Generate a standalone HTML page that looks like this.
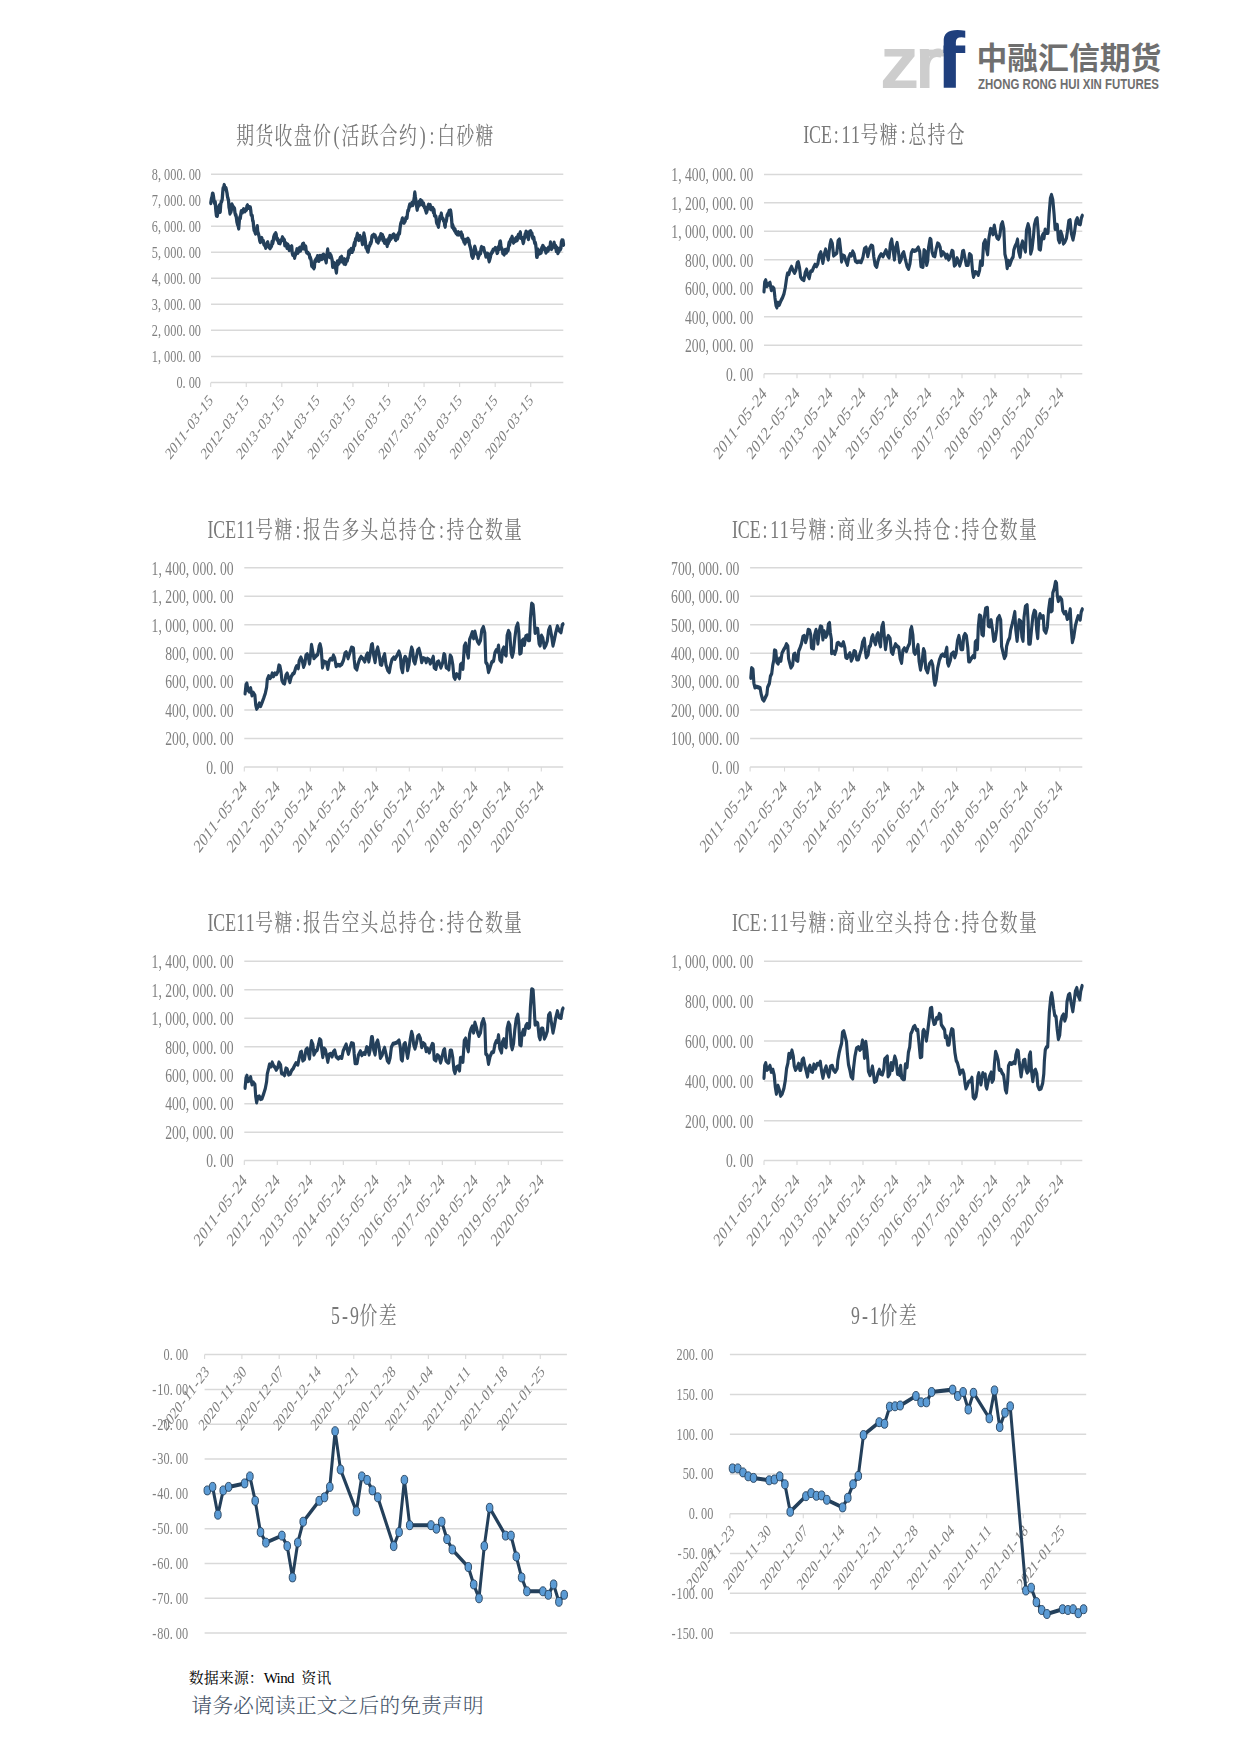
<!DOCTYPE html>
<html lang="zh-CN"><head><meta charset="utf-8"><title>中融汇信期货</title>
<style>
html,body{margin:0;padding:0;background:#fff}
body{width:1240px;height:1753px;position:relative;overflow:hidden}
svg{position:absolute;left:0;top:0;display:block}
text{white-space:pre}
.t{font-family:"Liberation Serif","Noto Serif CJK SC",serif;font-weight:400}
.f1{font-family:"Liberation Serif","Noto Serif CJK SC",serif;font-weight:400}
.f2{font-family:"Liberation Serif","Noto Serif CJK SC",serif;font-weight:300}
.lg{font-family:"Liberation Sans","DejaVu Sans",sans-serif}
.lc{font-family:"Liberation Sans","Noto Sans CJK SC",sans-serif}
.le{font-family:"Liberation Sans","DejaVu Sans",sans-serif}
#charts{filter:blur(0.6px)}
</style></head><body>
<svg width="1240" height="1753" viewBox="0 0 1240 1753">
<g id="charts">
<line x1="211.0" y1="174.20" x2="563.3" y2="174.20" stroke="#d9d9d9" stroke-width="1.50"/>
<text class="t" transform="translate(201.00 179.60) scale(1.0250 1.3890)" x="-48.00 -42.00 -36.00 -30.00 -24.00 -18.00 -12.00 -6.00" y="0" font-size="12.00" fill="#808080">8,000.00</text>
<line x1="211.0" y1="200.22" x2="563.3" y2="200.22" stroke="#d9d9d9" stroke-width="1.50"/>
<text class="t" transform="translate(201.00 205.62) scale(1.0250 1.3890)" x="-48.00 -42.00 -36.00 -30.00 -24.00 -18.00 -12.00 -6.00" y="0" font-size="12.00" fill="#808080">7,000.00</text>
<line x1="211.0" y1="226.25" x2="563.3" y2="226.25" stroke="#d9d9d9" stroke-width="1.50"/>
<text class="t" transform="translate(201.00 231.65) scale(1.0250 1.3890)" x="-48.00 -42.00 -36.00 -30.00 -24.00 -18.00 -12.00 -6.00" y="0" font-size="12.00" fill="#808080">6,000.00</text>
<line x1="211.0" y1="252.27" x2="563.3" y2="252.27" stroke="#d9d9d9" stroke-width="1.50"/>
<text class="t" transform="translate(201.00 257.67) scale(1.0250 1.3890)" x="-48.00 -42.00 -36.00 -30.00 -24.00 -18.00 -12.00 -6.00" y="0" font-size="12.00" fill="#808080">5,000.00</text>
<line x1="211.0" y1="278.30" x2="563.3" y2="278.30" stroke="#d9d9d9" stroke-width="1.50"/>
<text class="t" transform="translate(201.00 283.70) scale(1.0250 1.3890)" x="-48.00 -42.00 -36.00 -30.00 -24.00 -18.00 -12.00 -6.00" y="0" font-size="12.00" fill="#808080">4,000.00</text>
<line x1="211.0" y1="304.32" x2="563.3" y2="304.32" stroke="#d9d9d9" stroke-width="1.50"/>
<text class="t" transform="translate(201.00 309.72) scale(1.0250 1.3890)" x="-48.00 -42.00 -36.00 -30.00 -24.00 -18.00 -12.00 -6.00" y="0" font-size="12.00" fill="#808080">3,000.00</text>
<line x1="211.0" y1="330.35" x2="563.3" y2="330.35" stroke="#d9d9d9" stroke-width="1.50"/>
<text class="t" transform="translate(201.00 335.75) scale(1.0250 1.3890)" x="-48.00 -42.00 -36.00 -30.00 -24.00 -18.00 -12.00 -6.00" y="0" font-size="12.00" fill="#808080">2,000.00</text>
<line x1="211.0" y1="356.38" x2="563.3" y2="356.38" stroke="#d9d9d9" stroke-width="1.50"/>
<text class="t" transform="translate(201.00 361.77) scale(1.0250 1.3890)" x="-48.00 -42.00 -36.00 -30.00 -24.00 -18.00 -12.00 -6.00" y="0" font-size="12.00" fill="#808080">1,000.00</text>
<line x1="211.0" y1="382.40" x2="563.3" y2="382.40" stroke="#d9d9d9" stroke-width="1.50"/>
<text class="t" transform="translate(201.00 387.80) scale(1.0250 1.3890)" x="-24.00 -18.00 -12.00 -6.00" y="0" font-size="12.00" fill="#808080">0.00</text>
<line x1="210.70" y1="382.4" x2="210.70" y2="386.9" stroke="#d9d9d9" stroke-width="1.10"/>
<text class="t" transform="translate(213.70 401.40) scale(1.0250 1.3890) rotate(-45)" x="-60.00 -54.00 -48.00 -42.00 -35.00 -30.00 -24.00 -17.00 -12.00 -6.00" y="0" font-size="12.00" fill="#808080">2011-03-15</text>
<line x1="246.26" y1="382.4" x2="246.26" y2="386.9" stroke="#d9d9d9" stroke-width="1.10"/>
<text class="t" transform="translate(249.26 401.40) scale(1.0250 1.3890) rotate(-45)" x="-60.00 -54.00 -48.00 -42.00 -35.00 -30.00 -24.00 -17.00 -12.00 -6.00" y="0" font-size="12.00" fill="#808080">2012-03-15</text>
<line x1="281.82" y1="382.4" x2="281.82" y2="386.9" stroke="#d9d9d9" stroke-width="1.10"/>
<text class="t" transform="translate(284.82 401.40) scale(1.0250 1.3890) rotate(-45)" x="-60.00 -54.00 -48.00 -42.00 -35.00 -30.00 -24.00 -17.00 -12.00 -6.00" y="0" font-size="12.00" fill="#808080">2013-03-15</text>
<line x1="317.38" y1="382.4" x2="317.38" y2="386.9" stroke="#d9d9d9" stroke-width="1.10"/>
<text class="t" transform="translate(320.38 401.40) scale(1.0250 1.3890) rotate(-45)" x="-60.00 -54.00 -48.00 -42.00 -35.00 -30.00 -24.00 -17.00 -12.00 -6.00" y="0" font-size="12.00" fill="#808080">2014-03-15</text>
<line x1="352.94" y1="382.4" x2="352.94" y2="386.9" stroke="#d9d9d9" stroke-width="1.10"/>
<text class="t" transform="translate(355.94 401.40) scale(1.0250 1.3890) rotate(-45)" x="-60.00 -54.00 -48.00 -42.00 -35.00 -30.00 -24.00 -17.00 -12.00 -6.00" y="0" font-size="12.00" fill="#808080">2015-03-15</text>
<line x1="388.50" y1="382.4" x2="388.50" y2="386.9" stroke="#d9d9d9" stroke-width="1.10"/>
<text class="t" transform="translate(391.50 401.40) scale(1.0250 1.3890) rotate(-45)" x="-60.00 -54.00 -48.00 -42.00 -35.00 -30.00 -24.00 -17.00 -12.00 -6.00" y="0" font-size="12.00" fill="#808080">2016-03-15</text>
<line x1="424.06" y1="382.4" x2="424.06" y2="386.9" stroke="#d9d9d9" stroke-width="1.10"/>
<text class="t" transform="translate(427.06 401.40) scale(1.0250 1.3890) rotate(-45)" x="-60.00 -54.00 -48.00 -42.00 -35.00 -30.00 -24.00 -17.00 -12.00 -6.00" y="0" font-size="12.00" fill="#808080">2017-03-15</text>
<line x1="459.62" y1="382.4" x2="459.62" y2="386.9" stroke="#d9d9d9" stroke-width="1.10"/>
<text class="t" transform="translate(462.62 401.40) scale(1.0250 1.3890) rotate(-45)" x="-60.00 -54.00 -48.00 -42.00 -35.00 -30.00 -24.00 -17.00 -12.00 -6.00" y="0" font-size="12.00" fill="#808080">2018-03-15</text>
<line x1="495.18" y1="382.4" x2="495.18" y2="386.9" stroke="#d9d9d9" stroke-width="1.10"/>
<text class="t" transform="translate(498.18 401.40) scale(1.0250 1.3890) rotate(-45)" x="-60.00 -54.00 -48.00 -42.00 -35.00 -30.00 -24.00 -17.00 -12.00 -6.00" y="0" font-size="12.00" fill="#808080">2019-03-15</text>
<line x1="530.74" y1="382.4" x2="530.74" y2="386.9" stroke="#d9d9d9" stroke-width="1.10"/>
<text class="t" transform="translate(533.74 401.40) scale(1.0250 1.3890) rotate(-45)" x="-60.00 -54.00 -48.00 -42.00 -35.00 -30.00 -24.00 -17.00 -12.00 -6.00" y="0" font-size="12.00" fill="#808080">2020-03-15</text>
<text class="t" transform="translate(365.50 144.00) scale(1.0250 1.3890)" x="-126.02 -107.35 -88.68 -70.01 -51.34 -31.18 -23.34 -4.67 14.00 32.67 52.84 62.54 70.01 88.68 107.35" y="0" font-size="17.40" fill="#787878">期货收盘价(活跃合约):白砂糖</text>
<polyline transform="scale(1 1.355)" points="210.8,149.82 211.5,146.45 212.0,145.44 212.5,142.92 213.0,143.06 213.5,145.04 214.0,147.90 214.6,149.99 215.2,149.14 215.9,155.87 216.4,159.00 216.8,157.84 217.3,159.27 217.8,156.85 218.3,154.94 218.8,152.43 219.3,151.76 219.8,155.37 220.2,156.28 220.7,151.06 221.2,148.90 221.7,148.58 222.2,147.13 222.7,142.30 223.1,138.86 223.7,138.78 224.2,136.59 224.6,137.67 225.1,138.84 225.6,139.45 226.0,138.92 226.5,140.70 227.0,142.44 227.5,145.08 228.0,146.62 228.5,147.81 229.0,152.84 229.5,154.53 230.0,157.51 230.4,154.69 230.9,156.34 231.4,154.66 231.9,150.84 232.4,151.59 232.9,152.97 233.5,152.93 234.0,153.73 234.5,153.87 235.0,157.28 235.5,158.68 236.0,158.81 236.5,161.24 236.9,163.72 237.5,165.55 238.1,166.31 238.7,168.57 239.3,163.12 239.8,160.38 240.3,160.91 240.8,158.13 241.3,155.85 241.8,156.64 242.4,156.65 242.9,156.02 243.5,154.42 244.0,154.65 244.4,154.89 244.9,155.85 245.4,154.94 245.9,154.48 246.4,154.83 246.9,152.39 247.5,151.64 248.0,153.17 248.5,153.36 249.1,152.87 249.7,153.06 250.3,153.16 250.8,155.54 251.2,158.44 251.7,158.90 252.2,159.29 252.7,162.92 253.1,163.20 253.6,166.70 254.1,169.86 254.6,170.14 255.0,171.32 255.5,172.26 256.1,171.82 256.7,171.84 257.3,167.04 257.7,170.86 258.2,172.07 258.7,173.37 259.2,175.00 259.7,177.38 260.2,178.50 260.7,178.25 261.2,177.37 261.8,175.65 262.3,178.13 262.8,178.14 263.3,177.90 263.8,180.05 264.3,180.65 264.7,180.87 265.2,181.50 265.7,182.85 266.2,182.08 266.6,180.97 267.1,179.35 267.7,178.90 268.3,180.69 268.9,181.57 269.4,182.61 270.0,183.19 270.5,182.57 271.0,182.16 271.6,181.29 272.1,178.37 272.7,179.51 273.2,177.97 273.7,175.03 274.2,173.93 274.7,173.07 275.2,174.84 275.7,172.19 276.2,173.12 276.7,176.37 277.1,176.81 277.6,176.37 278.1,177.22 278.6,179.06 279.0,178.33 279.6,178.30 280.1,179.45 280.7,178.14 281.2,177.26 281.8,177.27 282.4,175.14 283.0,175.89 283.4,176.81 283.9,176.79 284.4,177.31 284.8,180.92 285.4,180.07 285.9,179.54 286.5,181.48 287.0,182.77 287.6,180.48 288.1,181.01 288.6,182.00 289.2,184.56 289.7,182.37 290.2,184.08 290.7,183.78 291.2,183.09 291.7,181.73 292.2,186.54 292.8,188.06 293.4,187.95 294.0,187.81 294.6,190.20 295.0,188.37 295.5,188.07 296.0,186.23 296.5,186.39 296.9,184.01 297.4,184.50 297.9,186.52 298.4,185.83 298.9,183.46 299.4,185.06 299.9,182.90 300.4,184.91 300.9,184.01 301.4,182.63 302.0,181.84 302.5,180.57 303.1,183.25 303.6,179.87 304.1,182.24 304.7,183.42 305.2,182.70 305.7,181.95 306.2,185.09 306.7,186.40 307.3,186.38 307.8,186.63 308.4,187.10 308.8,187.66 309.3,187.83 309.8,190.16 310.2,189.98 310.7,190.92 311.2,192.38 311.7,196.16 312.3,195.56 312.9,197.00 313.4,197.09 313.9,197.96 314.4,196.99 314.8,192.79 315.3,192.37 315.9,191.39 316.5,192.30 317.1,190.14 317.5,189.11 318.0,189.20 318.5,191.37 318.9,192.48 319.4,191.92 319.9,188.95 320.4,189.96 320.9,189.54 321.3,189.09 321.8,191.13 322.3,188.74 322.8,190.34 323.3,187.94 323.8,188.11 324.3,190.60 324.8,188.93 325.3,191.67 325.7,191.91 326.2,193.57 326.7,189.39 327.2,186.79 327.7,184.12 328.1,187.05 328.6,187.01 329.1,189.15 329.6,189.58 330.1,187.58 330.5,189.73 331.0,188.81 331.6,190.37 332.2,192.27 332.7,196.87 333.2,196.32 333.7,196.20 334.2,194.20 334.6,194.91 335.2,197.64 335.8,198.35 336.4,201.18 336.9,196.73 337.4,193.02 337.9,193.14 338.3,194.81 338.8,193.12 339.3,193.86 339.7,191.67 340.2,190.50 340.7,191.77 341.2,191.38 341.7,189.56 342.3,192.96 342.9,191.98 343.4,191.93 344.0,194.52 344.5,191.40 345.1,191.97 345.6,194.76 346.2,192.88 346.7,191.93 347.3,192.25 347.7,190.37 348.2,190.01 348.7,185.59 349.2,187.65 349.7,184.96 350.1,186.26 350.6,185.24 351.2,183.77 351.8,184.34 352.3,185.85 352.8,183.44 353.3,184.33 353.8,181.08 354.4,179.20 354.9,180.85 355.5,176.63 356.0,176.90 356.5,175.57 356.9,174.29 357.4,172.60 357.9,176.01 358.4,176.61 358.8,177.01 359.3,174.38 359.9,174.21 360.5,175.10 361.0,175.85 361.5,176.08 362.0,178.38 362.5,180.07 363.0,176.51 363.5,175.36 363.9,172.39 364.4,174.32 364.9,175.88 365.4,178.73 365.9,182.55 366.5,182.00 367.0,184.06 367.6,185.37 368.1,185.62 368.7,182.86 369.2,181.76 369.8,181.03 370.3,179.39 370.8,179.66 371.4,178.22 371.9,174.52 372.5,173.92 373.1,173.94 373.7,173.35 374.1,174.22 374.6,173.78 375.1,173.79 375.6,175.38 376.1,175.58 376.7,178.08 377.2,177.18 377.7,178.00 378.2,178.91 378.7,176.62 379.2,177.32 379.6,175.19 380.2,175.97 380.8,172.92 381.4,173.61 381.9,175.32 382.5,173.45 383.0,177.21 383.5,175.13 384.0,177.80 384.5,179.08 385.0,179.03 385.5,177.79 386.1,177.57 386.6,179.55 387.2,181.52 387.7,178.37 388.3,179.56 388.8,175.96 389.4,177.74 389.9,174.09 390.4,174.56 391.0,176.11 391.5,175.22 392.0,175.05 392.5,174.28 393.0,173.41 393.5,174.10 394.0,173.18 394.4,174.98 394.9,174.41 395.4,176.78 395.9,177.02 396.3,175.95 396.9,174.03 397.5,175.97 398.1,174.17 398.5,172.53 399.0,171.79 399.5,172.18 400.1,168.09 400.7,165.21 401.3,164.11 401.8,162.93 402.4,161.21 403.0,163.82 403.5,163.41 404.1,164.35 404.6,162.95 405.1,163.19 405.5,161.62 406.0,160.77 406.5,160.44 407.0,160.67 407.5,157.36 407.9,155.58 408.5,155.26 409.1,152.85 409.7,150.97 410.2,152.15 410.8,151.38 411.3,151.24 411.9,149.82 412.3,150.88 412.8,151.22 413.3,149.65 413.8,148.06 414.3,145.50 414.8,142.10 415.3,145.18 415.9,148.11 416.6,152.02 417.2,154.73 417.7,151.79 418.2,152.43 418.6,149.65 419.1,149.06 419.6,150.08 420.1,150.84 420.5,147.76 421.0,149.38 421.5,150.19 422.0,148.57 422.5,150.32 423.0,151.28 423.5,150.26 424.0,152.09 424.4,152.89 424.9,153.05 425.4,154.79 425.9,155.73 426.3,156.76 426.8,156.19 427.4,153.54 428.0,152.55 428.5,151.18 429.1,152.70 429.6,153.63 430.2,151.40 430.7,153.90 431.3,154.43 431.8,153.52 432.4,154.51 432.9,153.67 433.4,156.48 434.0,154.84 434.5,158.98 435.1,159.17 435.6,159.96 436.0,160.11 436.5,163.82 437.0,164.93 437.5,162.96 437.9,166.15 438.4,167.32 438.9,164.71 439.4,162.89 439.9,160.02 440.4,161.01 440.8,160.46 441.3,157.66 441.9,160.76 442.5,161.05 443.1,161.71 443.6,162.95 444.2,162.91 444.7,166.35 445.2,167.20 445.7,162.89 446.2,163.25 446.7,161.23 447.1,158.87 447.6,158.60 448.1,157.54 448.6,158.42 449.1,155.68 449.6,156.23 450.1,157.00 450.6,155.42 451.0,157.46 451.6,161.93 452.1,167.30 452.5,165.87 453.0,166.96 453.5,168.67 454.0,168.52 454.5,170.03 455.0,169.25 455.6,171.18 456.1,171.96 456.7,172.16 457.2,172.88 457.8,171.49 458.3,171.43 458.8,172.99 459.3,172.96 459.8,172.52 460.2,172.12 460.7,172.04 461.2,171.69 461.8,174.97 462.3,173.33 462.8,176.36 463.4,176.45 463.9,178.47 464.5,178.28 465.0,179.57 465.6,177.14 466.1,178.11 466.6,178.04 467.0,176.80 467.5,177.16 468.0,176.32 468.5,178.13 469.0,177.47 469.4,180.23 469.9,181.47 470.5,182.92 471.1,185.22 471.7,188.54 472.2,189.53 472.8,190.19 473.3,189.13 473.8,186.57 474.2,184.34 474.7,182.03 475.3,183.53 475.9,185.21 476.5,186.75 477.0,187.63 477.6,187.58 478.2,190.33 478.7,187.80 479.1,188.45 479.6,186.28 480.1,186.80 480.6,186.85 481.0,183.63 481.5,182.35 482.0,183.14 482.5,183.54 483.1,183.65 483.7,183.10 484.3,185.27 484.8,186.20 485.3,186.93 485.9,189.35 486.4,187.97 486.8,188.10 487.3,188.28 487.8,187.35 488.3,188.40 488.7,191.26 489.2,192.85 489.8,191.28 490.4,189.60 491.0,187.21 491.5,186.92 492.1,185.87 492.6,185.87 493.1,184.25 493.7,184.34 494.2,183.93 494.8,183.97 495.3,183.09 495.9,183.25 496.5,184.02 497.1,186.67 497.5,186.45 498.0,184.48 498.5,182.29 498.9,183.90 499.5,180.52 500.0,178.31 500.4,178.25 500.9,181.32 501.4,183.58 501.9,183.65 502.4,184.61 502.8,186.89 503.3,185.83 503.8,186.89 504.2,187.78 504.7,186.20 505.2,184.51 505.8,186.06 506.4,186.30 506.9,185.43 507.5,183.82 508.1,184.62 508.7,180.83 509.1,179.07 509.6,180.67 510.1,178.51 510.6,176.89 511.1,176.33 511.6,176.06 512.1,174.71 512.5,177.10 513.0,177.98 513.5,179.01 514.0,176.95 514.6,178.02 515.1,176.54 515.6,177.58 516.2,175.66 516.7,177.31 517.3,177.05 517.8,174.61 518.3,173.43 518.8,175.25 519.2,173.54 519.7,173.22 520.3,171.41 520.9,175.56 521.4,175.65 522.0,175.64 522.6,177.12 523.2,179.36 523.7,178.37 524.1,175.19 524.6,175.66 525.1,172.96 525.6,174.39 526.0,171.09 526.5,171.32 527.0,172.28 527.5,173.45 527.9,173.84 528.4,176.38 529.0,173.04 529.6,171.08 530.2,171.16 530.7,170.80 531.3,173.07 531.9,172.15 532.4,174.78 532.8,175.72 533.3,175.20 533.8,175.43 534.3,177.66 534.7,179.21 535.2,179.02 535.7,180.53 536.2,183.82 536.7,189.49 537.2,189.45 537.6,186.00 538.1,184.28 538.6,185.58 539.1,186.24 539.6,187.04 540.1,186.06 540.6,185.37 541.1,186.38 541.7,183.08 542.2,184.36 542.7,181.50 543.2,181.82 543.8,182.97 544.3,183.35 544.9,183.42 545.4,184.44 545.9,186.39 546.5,184.99 547.0,185.28 547.6,183.84 548.1,184.91 548.5,182.83 549.0,183.05 549.5,183.45 550.0,183.04 550.5,178.97 551.1,182.52 551.6,183.63 552.2,182.61 552.7,181.90 553.2,181.66 553.6,181.92 554.1,179.15 554.7,181.92 555.2,182.56 555.7,181.48 556.3,185.25 556.8,182.87 557.4,184.14 557.9,186.78 558.5,185.43 558.9,185.50 559.4,183.55 559.9,183.66 560.4,183.92 560.9,182.95 561.4,178.66 561.9,177.54 562.4,179.10 563.0,177.61 563.5,180.57" fill="none" stroke="#24405b" stroke-width="3.30" stroke-linejoin="round" stroke-linecap="round"/>
<line x1="764.0" y1="174.40" x2="1082.3" y2="174.40" stroke="#d9d9d9" stroke-width="1.50"/>
<text class="t" transform="translate(753.30 181.20) scale(1.0250 1.3890)" x="-79.98 -73.31 -66.65 -59.98 -53.32 -46.65 -39.99 -33.32 -26.66 -19.99 -13.33 -6.66" y="0" font-size="13.33" fill="#808080">1,400,000.00</text>
<line x1="764.0" y1="202.87" x2="1082.3" y2="202.87" stroke="#d9d9d9" stroke-width="1.50"/>
<text class="t" transform="translate(753.30 209.67) scale(1.0250 1.3890)" x="-79.98 -73.31 -66.65 -59.98 -53.32 -46.65 -39.99 -33.32 -26.66 -19.99 -13.33 -6.66" y="0" font-size="13.33" fill="#808080">1,200,000.00</text>
<line x1="764.0" y1="231.34" x2="1082.3" y2="231.34" stroke="#d9d9d9" stroke-width="1.50"/>
<text class="t" transform="translate(753.30 238.14) scale(1.0250 1.3890)" x="-79.98 -73.31 -66.65 -59.98 -53.32 -46.65 -39.99 -33.32 -26.66 -19.99 -13.33 -6.66" y="0" font-size="13.33" fill="#808080">1,000,000.00</text>
<line x1="764.0" y1="259.81" x2="1082.3" y2="259.81" stroke="#d9d9d9" stroke-width="1.50"/>
<text class="t" transform="translate(753.30 266.61) scale(1.0250 1.3890)" x="-66.65 -59.99 -53.32 -46.66 -39.99 -33.33 -26.66 -20.00 -13.33 -6.67" y="0" font-size="13.33" fill="#808080">800,000.00</text>
<line x1="764.0" y1="288.29" x2="1082.3" y2="288.29" stroke="#d9d9d9" stroke-width="1.50"/>
<text class="t" transform="translate(753.30 295.09) scale(1.0250 1.3890)" x="-66.65 -59.99 -53.32 -46.66 -39.99 -33.33 -26.66 -20.00 -13.33 -6.67" y="0" font-size="13.33" fill="#808080">600,000.00</text>
<line x1="764.0" y1="316.76" x2="1082.3" y2="316.76" stroke="#d9d9d9" stroke-width="1.50"/>
<text class="t" transform="translate(753.30 323.56) scale(1.0250 1.3890)" x="-66.65 -59.99 -53.32 -46.66 -39.99 -33.33 -26.66 -20.00 -13.33 -6.67" y="0" font-size="13.33" fill="#808080">400,000.00</text>
<line x1="764.0" y1="345.23" x2="1082.3" y2="345.23" stroke="#d9d9d9" stroke-width="1.50"/>
<text class="t" transform="translate(753.30 352.03) scale(1.0250 1.3890)" x="-66.65 -59.99 -53.32 -46.66 -39.99 -33.33 -26.66 -20.00 -13.33 -6.67" y="0" font-size="13.33" fill="#808080">200,000.00</text>
<line x1="764.0" y1="373.70" x2="1082.3" y2="373.70" stroke="#d9d9d9" stroke-width="1.50"/>
<text class="t" transform="translate(753.30 380.50) scale(1.0250 1.3890)" x="-26.66 -20.00 -13.33 -6.67" y="0" font-size="13.33" fill="#808080">0.00</text>
<line x1="764.00" y1="373.7" x2="764.00" y2="378.2" stroke="#d9d9d9" stroke-width="1.10"/>
<text class="t" transform="translate(767.33 394.81) scale(1.0250 1.3890) rotate(-45)" x="-66.65 -59.99 -53.32 -46.66 -38.88 -33.33 -26.66 -18.89 -13.33 -6.67" y="0" font-size="13.33" fill="#808080">2011-05-24</text>
<line x1="797.00" y1="373.7" x2="797.00" y2="378.2" stroke="#d9d9d9" stroke-width="1.10"/>
<text class="t" transform="translate(800.33 394.81) scale(1.0250 1.3890) rotate(-45)" x="-66.65 -59.99 -53.32 -46.66 -38.88 -33.33 -26.66 -18.89 -13.33 -6.67" y="0" font-size="13.33" fill="#808080">2012-05-24</text>
<line x1="830.00" y1="373.7" x2="830.00" y2="378.2" stroke="#d9d9d9" stroke-width="1.10"/>
<text class="t" transform="translate(833.33 394.81) scale(1.0250 1.3890) rotate(-45)" x="-66.65 -59.99 -53.32 -46.66 -38.88 -33.33 -26.66 -18.89 -13.33 -6.67" y="0" font-size="13.33" fill="#808080">2013-05-24</text>
<line x1="863.00" y1="373.7" x2="863.00" y2="378.2" stroke="#d9d9d9" stroke-width="1.10"/>
<text class="t" transform="translate(866.33 394.81) scale(1.0250 1.3890) rotate(-45)" x="-66.65 -59.99 -53.32 -46.66 -38.88 -33.33 -26.66 -18.89 -13.33 -6.67" y="0" font-size="13.33" fill="#808080">2014-05-24</text>
<line x1="896.00" y1="373.7" x2="896.00" y2="378.2" stroke="#d9d9d9" stroke-width="1.10"/>
<text class="t" transform="translate(899.33 394.81) scale(1.0250 1.3890) rotate(-45)" x="-66.65 -59.99 -53.32 -46.66 -38.88 -33.33 -26.66 -18.89 -13.33 -6.67" y="0" font-size="13.33" fill="#808080">2015-05-24</text>
<line x1="929.00" y1="373.7" x2="929.00" y2="378.2" stroke="#d9d9d9" stroke-width="1.10"/>
<text class="t" transform="translate(932.33 394.81) scale(1.0250 1.3890) rotate(-45)" x="-66.65 -59.99 -53.32 -46.66 -38.88 -33.33 -26.66 -18.89 -13.33 -6.67" y="0" font-size="13.33" fill="#808080">2016-05-24</text>
<line x1="962.00" y1="373.7" x2="962.00" y2="378.2" stroke="#d9d9d9" stroke-width="1.10"/>
<text class="t" transform="translate(965.33 394.81) scale(1.0250 1.3890) rotate(-45)" x="-66.65 -59.99 -53.32 -46.66 -38.88 -33.33 -26.66 -18.89 -13.33 -6.67" y="0" font-size="13.33" fill="#808080">2017-05-24</text>
<line x1="995.00" y1="373.7" x2="995.00" y2="378.2" stroke="#d9d9d9" stroke-width="1.10"/>
<text class="t" transform="translate(998.33 394.81) scale(1.0250 1.3890) rotate(-45)" x="-66.65 -59.99 -53.32 -46.66 -38.88 -33.33 -26.66 -18.89 -13.33 -6.67" y="0" font-size="13.33" fill="#808080">2018-05-24</text>
<line x1="1028.00" y1="373.7" x2="1028.00" y2="378.2" stroke="#d9d9d9" stroke-width="1.10"/>
<text class="t" transform="translate(1031.33 394.81) scale(1.0250 1.3890) rotate(-45)" x="-66.65 -59.99 -53.32 -46.66 -38.88 -33.33 -26.66 -18.89 -13.33 -6.67" y="0" font-size="13.33" fill="#808080">2019-05-24</text>
<line x1="1061.00" y1="373.7" x2="1061.00" y2="378.2" stroke="#d9d9d9" stroke-width="1.10"/>
<text class="t" transform="translate(1064.33 394.81) scale(1.0250 1.3890) rotate(-45)" x="-66.65 -59.99 -53.32 -46.66 -38.88 -33.33 -26.66 -18.89 -13.33 -6.67" y="0" font-size="13.33" fill="#808080">2020-05-24</text>
<text class="t" transform="translate(884.50 143.20) scale(1.0250 1.3890)" x="-79.35 -73.56 -61.96 -49.48 -42.01 -32.67 -23.34 -4.67 15.87 23.34 42.01 60.68" y="0" font-size="17.40" fill="#787878">ICE:11号糖:总持仓</text>
<polyline transform="scale(1 1.355)" points="764.0,215.10 764.7,208.22 765.7,206.75 767.0,211.17 768.4,209.69 770.0,208.71 771.3,214.11 772.9,212.15 774.0,213.13 775.0,220.01 776.0,225.41 776.9,226.88 778.0,223.44 779.3,224.92 780.9,221.97 782.6,219.51 783.9,217.06 785.3,212.15 786.6,205.27 787.5,201.84 788.9,202.33 789.9,199.38 791.5,196.93 792.9,199.38 794.6,201.35 795.9,199.38 797.3,193.98 798.3,193.49 799.5,197.42 800.6,204.29 801.9,205.77 803.9,206.75 805.2,201.35 806.6,198.89 807.9,203.31 809.2,205.27 810.6,200.36 812.3,199.87 813.6,197.42 815.0,195.45 816.5,196.44 817.9,194.47 819.2,188.58 820.8,186.12 821.9,190.54 822.9,193.98 824.3,187.60 825.6,184.16 826.9,187.60 828.3,191.53 829.9,180.72 830.9,177.29 832.3,179.74 833.6,188.58 835.2,187.60 836.8,186.62 838.1,177.78 839.4,176.80 840.5,183.67 841.6,193.00 842.9,188.58 844.5,189.07 845.8,192.51 847.4,195.45 848.8,190.05 850.1,187.60 851.4,188.58 852.7,185.63 854.1,187.60 855.4,192.51 857.1,193.49 859.1,193.00 861.1,193.49 862.9,190.05 864.5,183.67 866.1,182.69 867.8,189.07 869.5,183.67 871.1,181.21 872.7,181.71 873.8,189.56 875.1,195.45 876.7,196.93 878.0,192.51 879.4,189.56 881.1,187.60 883.1,189.07 884.7,186.62 886.0,184.65 887.7,188.58 889.1,190.05 890.4,179.74 891.7,176.80 893.1,184.65 894.4,191.53 895.7,182.69 897.1,179.25 898.4,185.63 899.7,193.49 901.0,191.53 902.4,187.60 903.7,186.12 905.4,191.53 907.0,196.44 908.6,198.40 910.0,194.47 911.3,186.62 912.6,184.65 914.4,185.14 916.3,184.65 918.3,182.69 919.7,185.63 921.0,196.44 923.0,196.93 924.0,184.65 925.3,185.63 926.7,195.45 927.7,192.51 928.6,182.69 930.0,176.30 930.9,176.80 932.0,185.63 933.3,188.58 934.9,189.07 936.2,183.67 937.6,179.74 938.9,180.23 940.2,182.69 941.3,188.58 942.9,186.12 944.6,187.60 945.9,190.05 947.3,188.09 948.6,191.53 950.3,189.56 951.9,185.14 953.0,185.63 954.3,195.95 955.7,194.96 957.0,190.54 958.3,192.51 959.7,195.95 961.3,192.02 962.6,185.63 963.6,185.14 965.0,190.54 966.3,195.45 968.2,195.45 969.5,187.60 971.2,188.58 972.6,200.36 973.5,204.29 975.2,200.86 977.0,201.35 978.3,202.82 979.6,199.38 980.5,193.00 982.3,195.45 983.6,179.74 985.2,177.29 986.3,183.18 987.6,187.60 988.9,175.81 990.5,168.94 991.9,169.43 992.9,172.87 994.3,166.48 995.6,171.89 996.9,175.32 998.5,176.30 999.8,173.85 1001.2,165.99 1002.5,164.03 1003.8,168.94 1004.9,187.60 1006.2,191.53 1007.2,197.91 1008.5,192.51 1009.8,195.45 1011.6,191.53 1013.1,189.56 1013.8,184.65 1015.1,181.71 1016.5,179.74 1017.5,176.80 1018.7,185.63 1020.1,189.56 1021.4,181.21 1022.5,178.27 1023.8,181.71 1025.4,185.63 1026.5,169.92 1028.1,165.50 1029.4,168.94 1030.7,187.11 1032.0,183.67 1033.4,174.83 1034.4,165.99 1035.8,162.06 1037.1,161.08 1038.2,170.90 1039.1,183.67 1040.4,184.16 1041.8,174.83 1043.1,172.87 1044.0,175.81 1045.1,169.43 1046.4,171.89 1048.0,171.89 1049.1,158.14 1050.4,146.35 1051.5,143.90 1052.8,147.33 1054.1,158.14 1055.1,168.94 1056.4,165.99 1057.3,165.99 1058.4,176.80 1059.5,178.76 1060.8,170.90 1062.1,173.85 1063.4,179.74 1065.0,178.27 1066.4,175.81 1067.4,170.90 1068.8,163.05 1070.1,162.56 1071.4,172.38 1073.0,176.80 1074.4,171.89 1076.0,163.05 1077.3,161.08 1078.6,165.01 1080.3,165.50 1081.3,161.08 1082.3,159.12" fill="none" stroke="#24405b" stroke-width="3.15" stroke-linejoin="round" stroke-linecap="round"/>
<line x1="244.3" y1="567.80" x2="563.2" y2="567.80" stroke="#d9d9d9" stroke-width="1.50"/>
<text class="t" transform="translate(233.60 574.60) scale(1.0250 1.3890)" x="-79.98 -73.31 -66.65 -59.98 -53.32 -46.65 -39.99 -33.32 -26.66 -19.99 -13.33 -6.66" y="0" font-size="13.33" fill="#808080">1,400,000.00</text>
<line x1="244.3" y1="596.26" x2="563.2" y2="596.26" stroke="#d9d9d9" stroke-width="1.50"/>
<text class="t" transform="translate(233.60 603.06) scale(1.0250 1.3890)" x="-79.98 -73.31 -66.65 -59.98 -53.32 -46.65 -39.99 -33.32 -26.66 -19.99 -13.33 -6.66" y="0" font-size="13.33" fill="#808080">1,200,000.00</text>
<line x1="244.3" y1="624.71" x2="563.2" y2="624.71" stroke="#d9d9d9" stroke-width="1.50"/>
<text class="t" transform="translate(233.60 631.51) scale(1.0250 1.3890)" x="-79.98 -73.31 -66.65 -59.98 -53.32 -46.65 -39.99 -33.32 -26.66 -19.99 -13.33 -6.66" y="0" font-size="13.33" fill="#808080">1,000,000.00</text>
<line x1="244.3" y1="653.17" x2="563.2" y2="653.17" stroke="#d9d9d9" stroke-width="1.50"/>
<text class="t" transform="translate(233.60 659.97) scale(1.0250 1.3890)" x="-66.65 -59.99 -53.32 -46.66 -39.99 -33.33 -26.66 -20.00 -13.33 -6.67" y="0" font-size="13.33" fill="#808080">800,000.00</text>
<line x1="244.3" y1="681.63" x2="563.2" y2="681.63" stroke="#d9d9d9" stroke-width="1.50"/>
<text class="t" transform="translate(233.60 688.43) scale(1.0250 1.3890)" x="-66.65 -59.99 -53.32 -46.66 -39.99 -33.33 -26.66 -20.00 -13.33 -6.67" y="0" font-size="13.33" fill="#808080">600,000.00</text>
<line x1="244.3" y1="710.09" x2="563.2" y2="710.09" stroke="#d9d9d9" stroke-width="1.50"/>
<text class="t" transform="translate(233.60 716.89) scale(1.0250 1.3890)" x="-66.65 -59.99 -53.32 -46.66 -39.99 -33.33 -26.66 -20.00 -13.33 -6.67" y="0" font-size="13.33" fill="#808080">400,000.00</text>
<line x1="244.3" y1="738.54" x2="563.2" y2="738.54" stroke="#d9d9d9" stroke-width="1.50"/>
<text class="t" transform="translate(233.60 745.34) scale(1.0250 1.3890)" x="-66.65 -59.99 -53.32 -46.66 -39.99 -33.33 -26.66 -20.00 -13.33 -6.67" y="0" font-size="13.33" fill="#808080">200,000.00</text>
<line x1="244.3" y1="767.00" x2="563.2" y2="767.00" stroke="#d9d9d9" stroke-width="1.50"/>
<text class="t" transform="translate(233.60 773.80) scale(1.0250 1.3890)" x="-26.66 -20.00 -13.33 -6.67" y="0" font-size="13.33" fill="#808080">0.00</text>
<line x1="244.30" y1="767.0" x2="244.30" y2="771.5" stroke="#d9d9d9" stroke-width="1.10"/>
<text class="t" transform="translate(247.63 788.11) scale(1.0250 1.3890) rotate(-45)" x="-66.65 -59.99 -53.32 -46.66 -38.88 -33.33 -26.66 -18.89 -13.33 -6.67" y="0" font-size="13.33" fill="#808080">2011-05-24</text>
<line x1="277.30" y1="767.0" x2="277.30" y2="771.5" stroke="#d9d9d9" stroke-width="1.10"/>
<text class="t" transform="translate(280.63 788.11) scale(1.0250 1.3890) rotate(-45)" x="-66.65 -59.99 -53.32 -46.66 -38.88 -33.33 -26.66 -18.89 -13.33 -6.67" y="0" font-size="13.33" fill="#808080">2012-05-24</text>
<line x1="310.30" y1="767.0" x2="310.30" y2="771.5" stroke="#d9d9d9" stroke-width="1.10"/>
<text class="t" transform="translate(313.63 788.11) scale(1.0250 1.3890) rotate(-45)" x="-66.65 -59.99 -53.32 -46.66 -38.88 -33.33 -26.66 -18.89 -13.33 -6.67" y="0" font-size="13.33" fill="#808080">2013-05-24</text>
<line x1="343.30" y1="767.0" x2="343.30" y2="771.5" stroke="#d9d9d9" stroke-width="1.10"/>
<text class="t" transform="translate(346.63 788.11) scale(1.0250 1.3890) rotate(-45)" x="-66.65 -59.99 -53.32 -46.66 -38.88 -33.33 -26.66 -18.89 -13.33 -6.67" y="0" font-size="13.33" fill="#808080">2014-05-24</text>
<line x1="376.30" y1="767.0" x2="376.30" y2="771.5" stroke="#d9d9d9" stroke-width="1.10"/>
<text class="t" transform="translate(379.63 788.11) scale(1.0250 1.3890) rotate(-45)" x="-66.65 -59.99 -53.32 -46.66 -38.88 -33.33 -26.66 -18.89 -13.33 -6.67" y="0" font-size="13.33" fill="#808080">2015-05-24</text>
<line x1="409.30" y1="767.0" x2="409.30" y2="771.5" stroke="#d9d9d9" stroke-width="1.10"/>
<text class="t" transform="translate(412.63 788.11) scale(1.0250 1.3890) rotate(-45)" x="-66.65 -59.99 -53.32 -46.66 -38.88 -33.33 -26.66 -18.89 -13.33 -6.67" y="0" font-size="13.33" fill="#808080">2016-05-24</text>
<line x1="442.30" y1="767.0" x2="442.30" y2="771.5" stroke="#d9d9d9" stroke-width="1.10"/>
<text class="t" transform="translate(445.63 788.11) scale(1.0250 1.3890) rotate(-45)" x="-66.65 -59.99 -53.32 -46.66 -38.88 -33.33 -26.66 -18.89 -13.33 -6.67" y="0" font-size="13.33" fill="#808080">2017-05-24</text>
<line x1="475.30" y1="767.0" x2="475.30" y2="771.5" stroke="#d9d9d9" stroke-width="1.10"/>
<text class="t" transform="translate(478.63 788.11) scale(1.0250 1.3890) rotate(-45)" x="-66.65 -59.99 -53.32 -46.66 -38.88 -33.33 -26.66 -18.89 -13.33 -6.67" y="0" font-size="13.33" fill="#808080">2018-05-24</text>
<line x1="508.30" y1="767.0" x2="508.30" y2="771.5" stroke="#d9d9d9" stroke-width="1.10"/>
<text class="t" transform="translate(511.63 788.11) scale(1.0250 1.3890) rotate(-45)" x="-66.65 -59.99 -53.32 -46.66 -38.88 -33.33 -26.66 -18.89 -13.33 -6.67" y="0" font-size="13.33" fill="#808080">2019-05-24</text>
<line x1="541.30" y1="767.0" x2="541.30" y2="771.5" stroke="#d9d9d9" stroke-width="1.10"/>
<text class="t" transform="translate(544.63 788.11) scale(1.0250 1.3890) rotate(-45)" x="-66.65 -59.99 -53.32 -46.66 -38.88 -33.33 -26.66 -18.89 -13.33 -6.67" y="0" font-size="13.33" fill="#808080">2020-05-24</text>
<text class="t" transform="translate(365.30 537.80) scale(1.0250 1.3890)" x="-154.03 -148.24 -136.64 -126.02 -116.69 -107.35 -88.68 -68.15 -60.68 -42.01 -23.34 -4.67 14.00 32.67 51.34 71.88 79.35 98.02 116.69 135.36" y="0" font-size="17.40" fill="#787878">ICE11号糖:报告多头总持仓:持仓数量</text>
<polyline transform="scale(1 1.355)" points="245.1,511.77 246.0,505.39 246.9,504.41 248.0,509.32 249.3,510.30 250.6,507.84 252.0,513.24 253.3,511.28 254.9,513.24 255.7,520.12 256.6,523.06 258.0,521.59 259.3,519.14 260.6,521.10 262.0,518.65 263.7,515.21 265.3,511.77 266.6,507.35 267.3,501.46 268.6,499.00 269.9,500.48 271.3,499.50 272.2,497.04 273.5,499.00 274.9,497.04 276.6,497.53 277.9,495.57 278.9,491.15 279.9,491.64 281.0,495.57 281.9,501.95 283.2,503.91 284.6,504.41 285.9,498.51 287.2,497.04 288.6,500.48 289.9,503.42 291.2,499.50 292.6,497.53 294.3,496.55 295.6,493.11 296.6,491.64 298.3,493.11 299.2,487.71 300.9,485.26 302.3,487.71 303.6,492.13 304.9,489.68 305.9,483.78 307.2,482.80 308.5,485.75 309.5,489.68 310.5,483.78 311.5,475.93 312.5,479.85 313.9,485.75 315.2,484.76 316.5,483.78 317.8,482.80 319.2,476.91 320.1,475.44 321.2,478.87 322.5,492.62 323.8,488.20 325.2,488.69 326.5,489.18 327.8,493.60 329.2,487.71 330.5,486.24 332.1,486.73 333.4,483.78 334.7,485.75 336.1,491.64 337.8,490.66 339.8,491.15 341.8,490.17 343.5,487.22 344.9,482.31 346.2,481.33 348.1,485.75 349.8,481.82 351.5,477.89 353.4,478.38 354.2,486.73 355.1,492.62 356.8,494.09 358.2,489.68 359.5,486.73 361.1,484.76 363.1,486.24 364.8,488.20 366.4,483.78 367.5,482.31 368.8,488.20 370.1,482.80 371.5,475.93 372.4,475.44 373.7,483.78 375.1,488.69 376.4,480.84 377.7,477.89 379.1,482.80 380.4,490.17 381.7,490.66 383.0,485.75 384.6,482.80 386.0,490.66 387.7,494.59 389.3,496.06 390.6,490.66 392.0,486.73 393.7,485.26 395.0,486.24 397.0,483.78 399.0,480.84 400.3,483.78 401.3,492.62 402.6,496.06 403.9,486.73 405.0,484.76 405.3,484.76 406.7,486.73 407.6,494.59 408.9,490.66 410.3,482.80 411.6,477.89 412.6,479.85 413.7,487.71 415.0,489.68 416.4,484.76 417.7,479.85 419.0,478.87 420.4,482.80 421.7,488.69 423.3,485.75 424.9,486.24 426.2,488.69 427.5,486.24 429.3,487.22 430.2,489.68 431.5,488.20 433.3,484.76 434.2,492.62 435.9,493.60 437.3,488.69 438.6,488.20 439.9,490.66 440.9,492.62 442.6,489.18 443.9,482.80 444.8,483.29 446.2,492.62 447.9,493.11 448.8,494.09 450.2,483.78 451.5,485.26 452.8,490.66 453.9,499.50 455.0,500.97 456.6,497.53 457.9,498.51 459.5,500.48 460.5,490.66 461.9,489.68 462.9,493.60 464.3,476.91 465.6,474.94 466.9,480.84 468.3,485.26 469.6,472.00 470.9,469.54 472.3,466.60 473.6,471.02 474.9,466.11 476.3,470.53 477.6,473.47 478.9,474.94 480.5,472.49 481.8,465.12 483.4,462.67 484.8,467.09 485.8,488.69 487.2,490.17 488.5,496.06 490.1,492.62 491.8,488.69 493.6,487.71 494.9,481.82 496.2,479.85 497.5,480.84 498.5,476.42 499.8,486.73 501.5,488.20 502.5,479.85 503.8,477.89 505.1,482.80 506.1,483.78 507.1,469.05 508.5,465.61 509.8,467.58 511.1,481.82 512.2,484.76 513.5,480.84 514.8,471.02 516.2,463.16 517.8,460.21 518.8,466.11 519.8,482.31 521.1,481.82 522.0,472.98 523.4,472.00 524.4,475.93 525.8,469.54 527.1,469.05 528.4,472.49 529.5,472.49 530.4,456.29 531.7,445.48 533.1,446.47 534.0,454.32 535.1,467.09 536.4,464.14 537.7,464.14 539.1,474.94 540.1,476.42 541.5,469.05 542.8,471.02 544.4,477.89 546.0,475.93 547.3,472.98 548.6,465.12 550.0,462.67 551.3,468.07 553.0,476.42 554.4,472.00 555.7,467.09 557.4,462.18 559.0,465.12 561.0,466.60 562.3,461.20 563.0,460.70" fill="none" stroke="#24405b" stroke-width="3.15" stroke-linejoin="round" stroke-linecap="round"/>
<line x1="750.1" y1="567.80" x2="1082.3" y2="567.80" stroke="#d9d9d9" stroke-width="1.50"/>
<text class="t" transform="translate(739.40 574.60) scale(1.0250 1.3890)" x="-66.65 -59.99 -53.32 -46.66 -39.99 -33.33 -26.66 -20.00 -13.33 -6.67" y="0" font-size="13.33" fill="#808080">700,000.00</text>
<line x1="750.1" y1="596.26" x2="1082.3" y2="596.26" stroke="#d9d9d9" stroke-width="1.50"/>
<text class="t" transform="translate(739.40 603.06) scale(1.0250 1.3890)" x="-66.65 -59.99 -53.32 -46.66 -39.99 -33.33 -26.66 -20.00 -13.33 -6.67" y="0" font-size="13.33" fill="#808080">600,000.00</text>
<line x1="750.1" y1="624.71" x2="1082.3" y2="624.71" stroke="#d9d9d9" stroke-width="1.50"/>
<text class="t" transform="translate(739.40 631.51) scale(1.0250 1.3890)" x="-66.65 -59.99 -53.32 -46.66 -39.99 -33.33 -26.66 -20.00 -13.33 -6.67" y="0" font-size="13.33" fill="#808080">500,000.00</text>
<line x1="750.1" y1="653.17" x2="1082.3" y2="653.17" stroke="#d9d9d9" stroke-width="1.50"/>
<text class="t" transform="translate(739.40 659.97) scale(1.0250 1.3890)" x="-66.65 -59.99 -53.32 -46.66 -39.99 -33.33 -26.66 -20.00 -13.33 -6.67" y="0" font-size="13.33" fill="#808080">400,000.00</text>
<line x1="750.1" y1="681.63" x2="1082.3" y2="681.63" stroke="#d9d9d9" stroke-width="1.50"/>
<text class="t" transform="translate(739.40 688.43) scale(1.0250 1.3890)" x="-66.65 -59.99 -53.32 -46.66 -39.99 -33.33 -26.66 -20.00 -13.33 -6.67" y="0" font-size="13.33" fill="#808080">300,000.00</text>
<line x1="750.1" y1="710.09" x2="1082.3" y2="710.09" stroke="#d9d9d9" stroke-width="1.50"/>
<text class="t" transform="translate(739.40 716.89) scale(1.0250 1.3890)" x="-66.65 -59.99 -53.32 -46.66 -39.99 -33.33 -26.66 -20.00 -13.33 -6.67" y="0" font-size="13.33" fill="#808080">200,000.00</text>
<line x1="750.1" y1="738.54" x2="1082.3" y2="738.54" stroke="#d9d9d9" stroke-width="1.50"/>
<text class="t" transform="translate(739.40 745.34) scale(1.0250 1.3890)" x="-66.65 -59.99 -53.32 -46.66 -39.99 -33.33 -26.66 -20.00 -13.33 -6.67" y="0" font-size="13.33" fill="#808080">100,000.00</text>
<line x1="750.1" y1="767.00" x2="1082.3" y2="767.00" stroke="#d9d9d9" stroke-width="1.50"/>
<text class="t" transform="translate(739.40 773.80) scale(1.0250 1.3890)" x="-26.66 -20.00 -13.33 -6.67" y="0" font-size="13.33" fill="#808080">0.00</text>
<line x1="750.10" y1="767.0" x2="750.10" y2="771.5" stroke="#d9d9d9" stroke-width="1.10"/>
<text class="t" transform="translate(753.43 788.11) scale(1.0250 1.3890) rotate(-45)" x="-66.65 -59.99 -53.32 -46.66 -38.88 -33.33 -26.66 -18.89 -13.33 -6.67" y="0" font-size="13.33" fill="#808080">2011-05-24</text>
<line x1="784.52" y1="767.0" x2="784.52" y2="771.5" stroke="#d9d9d9" stroke-width="1.10"/>
<text class="t" transform="translate(787.85 788.11) scale(1.0250 1.3890) rotate(-45)" x="-66.65 -59.99 -53.32 -46.66 -38.88 -33.33 -26.66 -18.89 -13.33 -6.67" y="0" font-size="13.33" fill="#808080">2012-05-24</text>
<line x1="818.94" y1="767.0" x2="818.94" y2="771.5" stroke="#d9d9d9" stroke-width="1.10"/>
<text class="t" transform="translate(822.27 788.11) scale(1.0250 1.3890) rotate(-45)" x="-66.65 -59.99 -53.32 -46.66 -38.88 -33.33 -26.66 -18.89 -13.33 -6.67" y="0" font-size="13.33" fill="#808080">2013-05-24</text>
<line x1="853.36" y1="767.0" x2="853.36" y2="771.5" stroke="#d9d9d9" stroke-width="1.10"/>
<text class="t" transform="translate(856.69 788.11) scale(1.0250 1.3890) rotate(-45)" x="-66.65 -59.99 -53.32 -46.66 -38.88 -33.33 -26.66 -18.89 -13.33 -6.67" y="0" font-size="13.33" fill="#808080">2014-05-24</text>
<line x1="887.78" y1="767.0" x2="887.78" y2="771.5" stroke="#d9d9d9" stroke-width="1.10"/>
<text class="t" transform="translate(891.11 788.11) scale(1.0250 1.3890) rotate(-45)" x="-66.65 -59.99 -53.32 -46.66 -38.88 -33.33 -26.66 -18.89 -13.33 -6.67" y="0" font-size="13.33" fill="#808080">2015-05-24</text>
<line x1="922.20" y1="767.0" x2="922.20" y2="771.5" stroke="#d9d9d9" stroke-width="1.10"/>
<text class="t" transform="translate(925.53 788.11) scale(1.0250 1.3890) rotate(-45)" x="-66.65 -59.99 -53.32 -46.66 -38.88 -33.33 -26.66 -18.89 -13.33 -6.67" y="0" font-size="13.33" fill="#808080">2016-05-24</text>
<line x1="956.62" y1="767.0" x2="956.62" y2="771.5" stroke="#d9d9d9" stroke-width="1.10"/>
<text class="t" transform="translate(959.95 788.11) scale(1.0250 1.3890) rotate(-45)" x="-66.65 -59.99 -53.32 -46.66 -38.88 -33.33 -26.66 -18.89 -13.33 -6.67" y="0" font-size="13.33" fill="#808080">2017-05-24</text>
<line x1="991.04" y1="767.0" x2="991.04" y2="771.5" stroke="#d9d9d9" stroke-width="1.10"/>
<text class="t" transform="translate(994.37 788.11) scale(1.0250 1.3890) rotate(-45)" x="-66.65 -59.99 -53.32 -46.66 -38.88 -33.33 -26.66 -18.89 -13.33 -6.67" y="0" font-size="13.33" fill="#808080">2018-05-24</text>
<line x1="1025.46" y1="767.0" x2="1025.46" y2="771.5" stroke="#d9d9d9" stroke-width="1.10"/>
<text class="t" transform="translate(1028.79 788.11) scale(1.0250 1.3890) rotate(-45)" x="-66.65 -59.99 -53.32 -46.66 -38.88 -33.33 -26.66 -18.89 -13.33 -6.67" y="0" font-size="13.33" fill="#808080">2019-05-24</text>
<line x1="1059.88" y1="767.0" x2="1059.88" y2="771.5" stroke="#d9d9d9" stroke-width="1.10"/>
<text class="t" transform="translate(1063.21 788.11) scale(1.0250 1.3890) rotate(-45)" x="-66.65 -59.99 -53.32 -46.66 -38.88 -33.33 -26.66 -18.89 -13.33 -6.67" y="0" font-size="13.33" fill="#808080">2020-05-24</text>
<text class="t" transform="translate(885.00 537.80) scale(1.0250 1.3890)" x="-149.36 -143.57 -131.98 -119.49 -112.02 -102.69 -93.35 -74.68 -54.14 -46.67 -28.00 -9.33 9.34 28.01 46.68 67.21 74.68 93.35 112.02 130.69" y="0" font-size="17.40" fill="#787878">ICE:11号糖:商业多头持仓:持仓数量</text>
<polyline transform="scale(1 1.355)" points="750.8,500.24 751.6,493.16 753.0,494.17 753.9,504.29 754.9,507.32 756.7,506.82 758.4,507.32 760.1,507.83 761.2,512.38 762.5,515.92 763.9,516.93 765.6,514.40 766.9,512.38 767.6,507.32 769.4,504.29 770.4,499.23 771.7,497.20 772.7,491.13 773.8,487.09 774.5,480.00 775.8,480.51 776.8,488.60 778.2,489.62 779.5,486.07 780.9,487.59 782.0,482.03 783.7,479.50 785.0,477.98 786.4,475.45 787.8,476.97 788.6,486.07 790.0,490.12 790.9,492.65 792.7,490.63 793.7,483.04 795.0,482.53 796.4,487.09 797.8,487.59 798.7,480.51 800.1,477.98 801.5,474.94 802.9,469.89 804.2,469.38 805.6,473.93 807.0,470.39 808.1,464.83 809.7,465.33 810.8,468.87 811.5,477.98 813.5,478.49 814.6,468.87 816.0,464.83 817.0,467.86 817.9,474.94 819.3,465.84 820.4,462.30 821.8,462.80 822.9,471.91 824.2,465.84 825.9,469.89 827.3,467.86 828.4,460.78 829.5,459.77 830.3,466.85 831.4,471.91 831.6,482.03 833.4,481.02 834.8,482.53 836.2,479.50 837.1,474.94 838.5,474.44 840.3,475.96 841.7,476.46 843.4,473.93 844.8,477.98 845.8,485.06 847.1,485.57 848.5,483.54 849.9,482.03 851.3,487.59 852.6,485.57 854.0,480.51 855.4,481.02 856.7,486.58 858.5,486.58 859.9,482.53 861.3,479.50 862.6,473.93 864.3,471.40 865.4,480.51 866.3,485.06 868.1,483.04 869.1,477.47 870.4,476.46 871.8,470.39 872.8,468.87 874.1,472.92 875.5,475.45 876.9,468.87 878.0,467.36 879.1,472.92 880.5,476.97 881.8,462.80 883.2,459.77 884.2,468.87 885.5,478.99 886.9,471.91 888.3,469.38 890.1,471.40 891.4,481.02 892.8,482.53 894.2,477.98 895.5,475.45 897.2,476.97 898.8,477.98 900.2,486.07 901.6,489.11 902.9,480.00 904.3,478.49 906.5,480.51 907.9,477.47 909.5,474.94 910.6,464.83 911.6,462.80 912.9,468.87 913.9,481.02 915.0,482.53 916.4,481.02 918.0,475.96 919.1,488.10 920.5,494.17 922.1,488.10 923.5,478.99 924.6,481.02 925.7,493.16 927.6,496.19 929.4,490.12 931.5,488.10 932.8,491.13 933.9,501.25 934.9,505.30 936.3,501.25 937.6,493.16 939.4,487.09 941.0,484.05 942.7,483.04 944.5,484.05 945.8,481.02 946.8,477.98 947.6,489.11 948.6,491.13 950.4,487.09 951.3,483.04 953.4,481.52 954.8,485.06 956.1,482.03 957.5,472.92 958.9,469.38 960.0,472.92 960.9,478.99 962.7,478.99 963.7,469.89 965.0,467.86 966.4,469.38 967.8,477.98 968.7,488.10 969.8,488.10 971.2,486.07 973.3,484.05 974.6,485.06 975.3,473.93 976.4,472.92 977.4,478.99 978.3,462.80 979.4,454.20 980.8,454.71 981.9,467.86 983.3,468.87 984.2,456.73 985.6,449.14 987.4,448.64 988.3,461.79 989.7,462.30 991.1,457.74 992.5,464.83 993.8,472.92 995.2,471.91 996.6,464.83 997.5,456.73 999.3,454.71 1000.7,457.74 1001.6,476.97 1003.0,481.52 1004.4,485.57 1005.8,483.54 1006.6,476.97 1008.2,472.92 1009.6,470.90 1010.7,464.83 1012.1,460.78 1013.4,456.73 1014.8,451.67 1015.8,464.83 1017.1,472.92 1018.1,464.83 1019.2,457.74 1020.8,458.76 1021.9,469.89 1023.0,472.92 1024.0,455.72 1025.4,447.63 1027.1,446.61 1028.1,458.76 1028.8,474.94 1030.2,474.94 1031.5,464.83 1032.9,454.71 1034.3,450.66 1035.6,451.67 1036.7,464.83 1037.7,470.90 1038.7,457.74 1040.0,453.19 1041.4,455.72 1043.2,454.71 1044.1,464.83 1045.9,466.85 1047.3,462.80 1048.7,449.65 1050.0,442.57 1051.0,451.17 1052.1,450.66 1052.8,437.51 1054.2,434.47 1055.5,429.41 1056.5,430.43 1057.3,439.53 1058.3,443.58 1060.1,441.05 1061.7,442.57 1062.8,450.66 1064.2,452.68 1065.8,451.67 1067.2,456.73 1068.8,455.72 1070.2,449.65 1071.3,464.83 1072.4,473.93 1073.8,469.89 1075.4,461.79 1076.8,457.74 1078.1,454.71 1080.2,457.24 1081.2,451.67 1082.3,449.65" fill="none" stroke="#24405b" stroke-width="3.15" stroke-linejoin="round" stroke-linecap="round"/>
<line x1="244.3" y1="961.30" x2="563.2" y2="961.30" stroke="#d9d9d9" stroke-width="1.50"/>
<text class="t" transform="translate(233.60 968.10) scale(1.0250 1.3890)" x="-79.98 -73.31 -66.65 -59.98 -53.32 -46.65 -39.99 -33.32 -26.66 -19.99 -13.33 -6.66" y="0" font-size="13.33" fill="#808080">1,400,000.00</text>
<line x1="244.3" y1="989.77" x2="563.2" y2="989.77" stroke="#d9d9d9" stroke-width="1.50"/>
<text class="t" transform="translate(233.60 996.57) scale(1.0250 1.3890)" x="-79.98 -73.31 -66.65 -59.98 -53.32 -46.65 -39.99 -33.32 -26.66 -19.99 -13.33 -6.66" y="0" font-size="13.33" fill="#808080">1,200,000.00</text>
<line x1="244.3" y1="1018.24" x2="563.2" y2="1018.24" stroke="#d9d9d9" stroke-width="1.50"/>
<text class="t" transform="translate(233.60 1025.04) scale(1.0250 1.3890)" x="-79.98 -73.31 -66.65 -59.98 -53.32 -46.65 -39.99 -33.32 -26.66 -19.99 -13.33 -6.66" y="0" font-size="13.33" fill="#808080">1,000,000.00</text>
<line x1="244.3" y1="1046.71" x2="563.2" y2="1046.71" stroke="#d9d9d9" stroke-width="1.50"/>
<text class="t" transform="translate(233.60 1053.51) scale(1.0250 1.3890)" x="-66.65 -59.99 -53.32 -46.66 -39.99 -33.33 -26.66 -20.00 -13.33 -6.67" y="0" font-size="13.33" fill="#808080">800,000.00</text>
<line x1="244.3" y1="1075.19" x2="563.2" y2="1075.19" stroke="#d9d9d9" stroke-width="1.50"/>
<text class="t" transform="translate(233.60 1081.99) scale(1.0250 1.3890)" x="-66.65 -59.99 -53.32 -46.66 -39.99 -33.33 -26.66 -20.00 -13.33 -6.67" y="0" font-size="13.33" fill="#808080">600,000.00</text>
<line x1="244.3" y1="1103.66" x2="563.2" y2="1103.66" stroke="#d9d9d9" stroke-width="1.50"/>
<text class="t" transform="translate(233.60 1110.46) scale(1.0250 1.3890)" x="-66.65 -59.99 -53.32 -46.66 -39.99 -33.33 -26.66 -20.00 -13.33 -6.67" y="0" font-size="13.33" fill="#808080">400,000.00</text>
<line x1="244.3" y1="1132.13" x2="563.2" y2="1132.13" stroke="#d9d9d9" stroke-width="1.50"/>
<text class="t" transform="translate(233.60 1138.93) scale(1.0250 1.3890)" x="-66.65 -59.99 -53.32 -46.66 -39.99 -33.33 -26.66 -20.00 -13.33 -6.67" y="0" font-size="13.33" fill="#808080">200,000.00</text>
<line x1="244.3" y1="1160.60" x2="563.2" y2="1160.60" stroke="#d9d9d9" stroke-width="1.50"/>
<text class="t" transform="translate(233.60 1167.40) scale(1.0250 1.3890)" x="-26.66 -20.00 -13.33 -6.67" y="0" font-size="13.33" fill="#808080">0.00</text>
<line x1="244.30" y1="1160.6" x2="244.30" y2="1165.1" stroke="#d9d9d9" stroke-width="1.10"/>
<text class="t" transform="translate(247.63 1181.71) scale(1.0250 1.3890) rotate(-45)" x="-66.65 -59.99 -53.32 -46.66 -38.88 -33.33 -26.66 -18.89 -13.33 -6.67" y="0" font-size="13.33" fill="#808080">2011-05-24</text>
<line x1="277.30" y1="1160.6" x2="277.30" y2="1165.1" stroke="#d9d9d9" stroke-width="1.10"/>
<text class="t" transform="translate(280.63 1181.71) scale(1.0250 1.3890) rotate(-45)" x="-66.65 -59.99 -53.32 -46.66 -38.88 -33.33 -26.66 -18.89 -13.33 -6.67" y="0" font-size="13.33" fill="#808080">2012-05-24</text>
<line x1="310.30" y1="1160.6" x2="310.30" y2="1165.1" stroke="#d9d9d9" stroke-width="1.10"/>
<text class="t" transform="translate(313.63 1181.71) scale(1.0250 1.3890) rotate(-45)" x="-66.65 -59.99 -53.32 -46.66 -38.88 -33.33 -26.66 -18.89 -13.33 -6.67" y="0" font-size="13.33" fill="#808080">2013-05-24</text>
<line x1="343.30" y1="1160.6" x2="343.30" y2="1165.1" stroke="#d9d9d9" stroke-width="1.10"/>
<text class="t" transform="translate(346.63 1181.71) scale(1.0250 1.3890) rotate(-45)" x="-66.65 -59.99 -53.32 -46.66 -38.88 -33.33 -26.66 -18.89 -13.33 -6.67" y="0" font-size="13.33" fill="#808080">2014-05-24</text>
<line x1="376.30" y1="1160.6" x2="376.30" y2="1165.1" stroke="#d9d9d9" stroke-width="1.10"/>
<text class="t" transform="translate(379.63 1181.71) scale(1.0250 1.3890) rotate(-45)" x="-66.65 -59.99 -53.32 -46.66 -38.88 -33.33 -26.66 -18.89 -13.33 -6.67" y="0" font-size="13.33" fill="#808080">2015-05-24</text>
<line x1="409.30" y1="1160.6" x2="409.30" y2="1165.1" stroke="#d9d9d9" stroke-width="1.10"/>
<text class="t" transform="translate(412.63 1181.71) scale(1.0250 1.3890) rotate(-45)" x="-66.65 -59.99 -53.32 -46.66 -38.88 -33.33 -26.66 -18.89 -13.33 -6.67" y="0" font-size="13.33" fill="#808080">2016-05-24</text>
<line x1="442.30" y1="1160.6" x2="442.30" y2="1165.1" stroke="#d9d9d9" stroke-width="1.10"/>
<text class="t" transform="translate(445.63 1181.71) scale(1.0250 1.3890) rotate(-45)" x="-66.65 -59.99 -53.32 -46.66 -38.88 -33.33 -26.66 -18.89 -13.33 -6.67" y="0" font-size="13.33" fill="#808080">2017-05-24</text>
<line x1="475.30" y1="1160.6" x2="475.30" y2="1165.1" stroke="#d9d9d9" stroke-width="1.10"/>
<text class="t" transform="translate(478.63 1181.71) scale(1.0250 1.3890) rotate(-45)" x="-66.65 -59.99 -53.32 -46.66 -38.88 -33.33 -26.66 -18.89 -13.33 -6.67" y="0" font-size="13.33" fill="#808080">2018-05-24</text>
<line x1="508.30" y1="1160.6" x2="508.30" y2="1165.1" stroke="#d9d9d9" stroke-width="1.10"/>
<text class="t" transform="translate(511.63 1181.71) scale(1.0250 1.3890) rotate(-45)" x="-66.65 -59.99 -53.32 -46.66 -38.88 -33.33 -26.66 -18.89 -13.33 -6.67" y="0" font-size="13.33" fill="#808080">2019-05-24</text>
<line x1="541.30" y1="1160.6" x2="541.30" y2="1165.1" stroke="#d9d9d9" stroke-width="1.10"/>
<text class="t" transform="translate(544.63 1181.71) scale(1.0250 1.3890) rotate(-45)" x="-66.65 -59.99 -53.32 -46.66 -38.88 -33.33 -26.66 -18.89 -13.33 -6.67" y="0" font-size="13.33" fill="#808080">2020-05-24</text>
<text class="t" transform="translate(365.30 930.50) scale(1.0250 1.3890)" x="-154.03 -148.24 -136.64 -126.02 -116.69 -107.35 -88.68 -68.15 -60.68 -42.01 -23.34 -4.67 14.00 32.67 51.34 71.88 79.35 98.02 116.69 135.36" y="0" font-size="17.40" fill="#787878">ICE11号糖:报告空头总持仓:持仓数量</text>
<polyline transform="scale(1 1.355)" points="245.1,802.79 246.0,795.42 246.9,793.95 248.0,797.88 249.3,797.39 250.6,794.93 252.0,800.33 253.3,798.86 254.9,800.33 255.7,809.17 256.6,813.59 258.0,809.66 259.3,809.17 260.6,811.14 262.0,810.65 263.7,807.21 265.3,803.28 266.6,798.37 267.3,792.48 268.6,788.55 269.5,785.60 270.9,787.08 272.2,784.13 273.5,786.59 274.9,787.57 276.2,789.53 277.9,787.57 278.9,784.13 280.6,786.10 281.5,791.99 283.2,792.48 284.6,793.46 285.9,788.55 287.2,789.04 288.6,792.97 290.3,792.48 291.6,790.02 293.2,788.55 294.8,786.10 295.9,784.62 297.9,785.60 299.2,780.69 300.5,776.77 301.5,776.27 302.8,782.66 304.5,781.68 305.9,774.80 307.2,773.82 308.5,777.75 309.5,781.18 310.5,773.82 311.5,768.42 312.9,770.87 313.9,778.24 315.6,775.78 317.2,774.80 318.5,770.87 319.6,766.95 320.9,767.93 321.8,774.80 322.8,780.20 324.1,773.82 325.4,774.80 326.8,779.71 327.8,783.64 329.2,778.24 330.8,777.75 332.1,779.71 333.4,776.27 334.7,775.29 336.1,779.71 338.2,781.18 340.1,780.20 341.8,780.69 343.1,775.78 344.9,772.84 346.2,770.87 347.5,775.29 348.4,777.75 349.8,773.82 351.5,769.89 353.4,770.38 354.2,777.75 355.1,784.62 357.1,784.62 358.4,778.73 360.4,775.78 361.8,778.73 363.5,777.26 365.1,777.75 366.7,772.84 367.7,773.33 369.1,778.24 370.1,774.80 371.5,765.47 372.4,765.47 373.7,774.80 375.1,778.24 376.4,769.89 377.7,767.93 379.1,772.84 380.4,780.69 382.1,778.73 383.4,775.29 384.6,773.33 386.0,777.75 387.3,782.66 388.8,784.13 390.1,780.69 391.4,772.84 393.0,770.38 395.0,769.89 397.0,769.40 399.0,767.93 400.3,772.84 401.3,781.68 402.3,782.66 403.9,770.87 405.0,769.89 405.3,769.89 406.7,776.77 407.6,780.69 408.9,774.80 410.3,766.95 411.6,761.54 412.6,764.00 413.7,770.87 415.0,773.82 416.4,769.89 417.7,764.98 419.0,764.00 420.4,766.45 421.7,772.84 423.3,769.89 424.9,770.87 426.2,775.78 427.5,773.82 429.3,776.77 430.6,773.82 432.3,770.38 433.3,770.87 434.2,781.68 435.9,782.66 437.3,778.73 439.0,779.71 440.6,784.13 441.9,780.69 443.5,775.29 444.6,774.31 445.9,782.66 447.9,784.13 448.8,784.13 450.2,775.29 451.5,775.29 452.8,780.69 453.9,789.53 455.0,791.99 456.6,787.57 457.9,787.08 459.5,790.02 460.5,780.69 461.9,780.69 462.9,783.64 464.3,767.93 465.6,766.45 466.9,771.86 468.3,775.78 469.6,763.02 470.9,759.58 472.3,757.62 473.6,762.04 474.9,754.67 476.3,758.11 477.6,762.04 478.9,764.49 480.5,762.04 481.8,755.16 483.4,752.21 484.8,756.14 485.8,777.75 487.2,778.73 488.5,785.11 490.1,779.71 491.8,776.77 493.6,776.27 494.9,770.87 496.2,768.42 497.5,768.91 498.5,764.00 499.8,773.82 501.5,776.77 502.5,768.91 503.8,766.95 505.1,771.86 506.1,772.84 507.1,759.09 508.5,754.67 509.8,756.63 511.1,770.87 512.2,774.31 513.5,770.38 514.8,760.07 516.2,752.21 517.8,748.78 518.8,755.16 519.8,770.87 521.1,771.36 522.0,763.02 523.4,760.07 524.4,763.51 525.8,757.12 527.1,755.65 528.4,758.60 529.5,758.11 530.4,743.38 531.7,730.12 533.1,730.61 534.0,741.41 535.1,756.14 536.4,754.67 537.7,755.16 539.1,764.98 540.1,766.95 541.5,759.09 542.8,759.09 544.4,766.45 546.0,764.00 547.3,761.05 548.6,749.27 550.0,747.80 551.3,754.18 553.0,762.04 554.4,757.12 555.7,751.23 557.4,746.32 559.0,750.74 561.0,751.23 562.3,745.34 563.0,744.36" fill="none" stroke="#24405b" stroke-width="3.15" stroke-linejoin="round" stroke-linecap="round"/>
<line x1="764.0" y1="961.30" x2="1082.3" y2="961.30" stroke="#d9d9d9" stroke-width="1.50"/>
<text class="t" transform="translate(753.30 968.10) scale(1.0250 1.3890)" x="-79.98 -73.31 -66.65 -59.98 -53.32 -46.65 -39.99 -33.32 -26.66 -19.99 -13.33 -6.66" y="0" font-size="13.33" fill="#808080">1,000,000.00</text>
<line x1="764.0" y1="1001.16" x2="1082.3" y2="1001.16" stroke="#d9d9d9" stroke-width="1.50"/>
<text class="t" transform="translate(753.30 1007.96) scale(1.0250 1.3890)" x="-66.65 -59.99 -53.32 -46.66 -39.99 -33.33 -26.66 -20.00 -13.33 -6.67" y="0" font-size="13.33" fill="#808080">800,000.00</text>
<line x1="764.0" y1="1041.02" x2="1082.3" y2="1041.02" stroke="#d9d9d9" stroke-width="1.50"/>
<text class="t" transform="translate(753.30 1047.82) scale(1.0250 1.3890)" x="-66.65 -59.99 -53.32 -46.66 -39.99 -33.33 -26.66 -20.00 -13.33 -6.67" y="0" font-size="13.33" fill="#808080">600,000.00</text>
<line x1="764.0" y1="1080.88" x2="1082.3" y2="1080.88" stroke="#d9d9d9" stroke-width="1.50"/>
<text class="t" transform="translate(753.30 1087.68) scale(1.0250 1.3890)" x="-66.65 -59.99 -53.32 -46.66 -39.99 -33.33 -26.66 -20.00 -13.33 -6.67" y="0" font-size="13.33" fill="#808080">400,000.00</text>
<line x1="764.0" y1="1120.74" x2="1082.3" y2="1120.74" stroke="#d9d9d9" stroke-width="1.50"/>
<text class="t" transform="translate(753.30 1127.54) scale(1.0250 1.3890)" x="-66.65 -59.99 -53.32 -46.66 -39.99 -33.33 -26.66 -20.00 -13.33 -6.67" y="0" font-size="13.33" fill="#808080">200,000.00</text>
<line x1="764.0" y1="1160.60" x2="1082.3" y2="1160.60" stroke="#d9d9d9" stroke-width="1.50"/>
<text class="t" transform="translate(753.30 1167.40) scale(1.0250 1.3890)" x="-26.66 -20.00 -13.33 -6.67" y="0" font-size="13.33" fill="#808080">0.00</text>
<line x1="764.00" y1="1160.6" x2="764.00" y2="1165.1" stroke="#d9d9d9" stroke-width="1.10"/>
<text class="t" transform="translate(767.33 1181.71) scale(1.0250 1.3890) rotate(-45)" x="-66.65 -59.99 -53.32 -46.66 -38.88 -33.33 -26.66 -18.89 -13.33 -6.67" y="0" font-size="13.33" fill="#808080">2011-05-24</text>
<line x1="797.00" y1="1160.6" x2="797.00" y2="1165.1" stroke="#d9d9d9" stroke-width="1.10"/>
<text class="t" transform="translate(800.33 1181.71) scale(1.0250 1.3890) rotate(-45)" x="-66.65 -59.99 -53.32 -46.66 -38.88 -33.33 -26.66 -18.89 -13.33 -6.67" y="0" font-size="13.33" fill="#808080">2012-05-24</text>
<line x1="830.00" y1="1160.6" x2="830.00" y2="1165.1" stroke="#d9d9d9" stroke-width="1.10"/>
<text class="t" transform="translate(833.33 1181.71) scale(1.0250 1.3890) rotate(-45)" x="-66.65 -59.99 -53.32 -46.66 -38.88 -33.33 -26.66 -18.89 -13.33 -6.67" y="0" font-size="13.33" fill="#808080">2013-05-24</text>
<line x1="863.00" y1="1160.6" x2="863.00" y2="1165.1" stroke="#d9d9d9" stroke-width="1.10"/>
<text class="t" transform="translate(866.33 1181.71) scale(1.0250 1.3890) rotate(-45)" x="-66.65 -59.99 -53.32 -46.66 -38.88 -33.33 -26.66 -18.89 -13.33 -6.67" y="0" font-size="13.33" fill="#808080">2014-05-24</text>
<line x1="896.00" y1="1160.6" x2="896.00" y2="1165.1" stroke="#d9d9d9" stroke-width="1.10"/>
<text class="t" transform="translate(899.33 1181.71) scale(1.0250 1.3890) rotate(-45)" x="-66.65 -59.99 -53.32 -46.66 -38.88 -33.33 -26.66 -18.89 -13.33 -6.67" y="0" font-size="13.33" fill="#808080">2015-05-24</text>
<line x1="929.00" y1="1160.6" x2="929.00" y2="1165.1" stroke="#d9d9d9" stroke-width="1.10"/>
<text class="t" transform="translate(932.33 1181.71) scale(1.0250 1.3890) rotate(-45)" x="-66.65 -59.99 -53.32 -46.66 -38.88 -33.33 -26.66 -18.89 -13.33 -6.67" y="0" font-size="13.33" fill="#808080">2016-05-24</text>
<line x1="962.00" y1="1160.6" x2="962.00" y2="1165.1" stroke="#d9d9d9" stroke-width="1.10"/>
<text class="t" transform="translate(965.33 1181.71) scale(1.0250 1.3890) rotate(-45)" x="-66.65 -59.99 -53.32 -46.66 -38.88 -33.33 -26.66 -18.89 -13.33 -6.67" y="0" font-size="13.33" fill="#808080">2017-05-24</text>
<line x1="995.00" y1="1160.6" x2="995.00" y2="1165.1" stroke="#d9d9d9" stroke-width="1.10"/>
<text class="t" transform="translate(998.33 1181.71) scale(1.0250 1.3890) rotate(-45)" x="-66.65 -59.99 -53.32 -46.66 -38.88 -33.33 -26.66 -18.89 -13.33 -6.67" y="0" font-size="13.33" fill="#808080">2018-05-24</text>
<line x1="1028.00" y1="1160.6" x2="1028.00" y2="1165.1" stroke="#d9d9d9" stroke-width="1.10"/>
<text class="t" transform="translate(1031.33 1181.71) scale(1.0250 1.3890) rotate(-45)" x="-66.65 -59.99 -53.32 -46.66 -38.88 -33.33 -26.66 -18.89 -13.33 -6.67" y="0" font-size="13.33" fill="#808080">2019-05-24</text>
<line x1="1061.00" y1="1160.6" x2="1061.00" y2="1165.1" stroke="#d9d9d9" stroke-width="1.10"/>
<text class="t" transform="translate(1064.33 1181.71) scale(1.0250 1.3890) rotate(-45)" x="-66.65 -59.99 -53.32 -46.66 -38.88 -33.33 -26.66 -18.89 -13.33 -6.67" y="0" font-size="13.33" fill="#808080">2020-05-24</text>
<text class="t" transform="translate(885.00 930.50) scale(1.0250 1.3890)" x="-149.36 -143.57 -131.98 -119.49 -112.02 -102.69 -93.35 -74.68 -54.14 -46.67 -28.00 -9.33 9.34 28.01 46.68 67.21 74.68 93.35 112.02 130.69" y="0" font-size="17.40" fill="#787878">ICE:11号糖:商业空头持仓:持仓数量</text>
<polyline transform="scale(1 1.355)" points="764.0,795.42 764.7,786.59 765.7,784.62 767.0,789.53 768.4,788.55 770.0,786.59 771.3,791.01 772.9,789.53 774.2,793.46 775.3,802.30 776.4,807.21 778.0,801.32 779.3,804.26 780.6,808.68 782.2,807.21 783.9,803.28 785.3,797.39 786.6,788.55 787.9,784.62 788.9,777.75 790.2,780.69 791.9,775.29 793.3,779.71 794.2,786.59 795.5,789.53 797.3,787.57 798.6,785.11 799.9,789.53 800.8,789.53 802.2,782.17 803.5,781.18 804.8,786.59 806.2,790.51 807.5,794.44 808.6,788.55 809.9,786.59 811.2,790.51 812.6,791.01 813.9,785.60 815.5,788.55 817.2,785.11 818.9,785.60 820.3,783.64 821.6,790.51 822.9,795.42 824.3,790.51 826.1,787.08 827.5,791.50 828.8,794.44 830.5,787.08 832.3,786.59 833.6,789.53 835.2,791.01 837.2,788.55 837.8,782.66 839.2,776.77 840.5,772.84 841.6,769.89 842.5,762.04 843.8,761.05 845.2,764.98 846.5,768.91 847.4,777.75 848.5,785.60 849.8,789.53 851.1,794.44 852.7,795.92 853.5,788.55 854.9,779.71 856.5,773.82 858.5,772.84 859.8,774.80 861.1,773.82 862.5,767.93 863.8,772.84 864.5,780.69 865.8,768.91 866.8,774.80 867.8,782.66 868.4,790.51 870.0,793.46 871.4,790.51 872.4,787.08 873.5,792.48 874.4,798.37 876.4,797.39 877.8,792.48 879.4,789.53 880.7,792.48 882.4,792.97 883.7,789.53 884.7,781.68 886.0,780.69 887.3,779.71 888.1,794.44 889.7,792.48 891.1,784.62 892.4,789.53 893.5,784.62 894.8,779.71 896.1,782.66 897.5,792.48 898.8,789.53 899.7,793.46 900.6,786.59 901.7,795.42 903.3,796.41 904.4,796.41 905.4,785.60 907.0,787.57 908.4,776.77 909.7,772.84 910.8,763.02 912.1,761.05 913.4,758.11 914.8,757.12 916.3,760.07 917.7,760.07 919.0,769.89 920.3,780.20 921.7,779.71 922.3,768.91 923.0,761.05 923.7,760.07 925.1,762.04 926.4,767.93 927.7,761.05 929.0,753.20 930.4,744.36 931.7,743.87 932.6,751.23 934.0,755.65 935.3,755.16 936.6,751.23 938.0,751.72 939.3,748.29 940.6,749.27 941.3,756.14 942.9,758.11 944.6,760.07 945.3,765.47 946.6,764.98 947.7,770.87 949.0,770.87 950.3,764.00 951.7,759.58 953.0,760.07 953.9,768.91 954.9,776.77 956.2,782.66 957.5,784.62 958.9,788.55 959.9,792.48 961.3,790.51 962.8,790.02 963.9,792.48 965.0,799.35 965.9,803.28 967.2,801.32 968.6,798.37 970.3,797.88 971.9,795.42 972.6,803.28 973.2,809.66 974.6,810.65 975.9,809.17 977.0,804.26 977.9,794.44 978.8,791.99 979.9,796.41 980.9,800.33 981.9,796.41 982.8,791.99 984.1,793.95 985.2,792.97 985.9,801.32 986.8,803.28 988.1,798.37 989.5,794.44 991.2,791.50 992.1,798.37 993.5,796.41 994.5,784.62 995.6,776.27 996.9,778.73 998.2,782.66 999.2,789.53 1000.9,789.53 1001.8,791.50 1003.6,793.46 1004.5,798.37 1005.4,804.26 1006.5,806.23 1007.6,798.37 1008.5,786.59 1009.8,784.62 1011.6,785.11 1012.9,784.62 1014.2,783.64 1015.1,784.62 1015.8,778.73 1017.1,775.29 1018.2,775.78 1019.1,782.66 1020.1,788.55 1021.1,794.44 1022.2,788.55 1023.5,782.66 1024.9,782.17 1025.8,788.55 1027.1,791.50 1028.4,790.51 1029.4,778.73 1030.4,776.77 1031.5,790.51 1032.8,797.88 1034.2,790.51 1035.5,789.53 1036.8,792.48 1037.8,801.32 1039.1,803.77 1041.1,803.28 1042.7,799.35 1043.8,792.48 1044.4,782.66 1045.3,774.80 1046.4,772.84 1047.7,772.35 1048.4,761.05 1049.3,747.30 1050.7,736.50 1051.7,733.06 1052.8,738.47 1053.7,744.36 1054.7,749.27 1056.0,750.25 1057.1,759.09 1058.4,766.95 1059.7,764.00 1060.8,754.18 1062.1,750.25 1063.4,748.78 1064.8,753.20 1066.1,750.25 1067.0,739.45 1068.4,734.54 1069.7,733.56 1071.0,739.45 1072.8,746.32 1074.1,739.45 1075.4,731.59 1076.8,729.14 1078.1,734.54 1079.7,737.48 1080.7,731.59 1082.1,727.66" fill="none" stroke="#24405b" stroke-width="3.15" stroke-linejoin="round" stroke-linecap="round"/>
<line x1="204.6" y1="1354.60" x2="566.9" y2="1354.60" stroke="#d9d9d9" stroke-width="1.50"/>
<text class="t" transform="translate(188.10 1360.00) scale(1.0250 1.3890)" x="-24.00 -18.00 -12.00 -6.00" y="0" font-size="12.00" fill="#808080">0.00</text>
<line x1="204.6" y1="1389.41" x2="566.9" y2="1389.41" stroke="#d9d9d9" stroke-width="1.50"/>
<text class="t" transform="translate(188.10 1394.81) scale(1.0250 1.3890)" x="-35.00 -30.00 -24.00 -18.00 -12.00 -6.00" y="0" font-size="12.00" fill="#808080">-10.00</text>
<line x1="204.6" y1="1424.22" x2="566.9" y2="1424.22" stroke="#d9d9d9" stroke-width="1.50"/>
<text class="t" transform="translate(188.10 1429.62) scale(1.0250 1.3890)" x="-35.00 -30.00 -24.00 -18.00 -12.00 -6.00" y="0" font-size="12.00" fill="#808080">-20.00</text>
<line x1="204.6" y1="1459.04" x2="566.9" y2="1459.04" stroke="#d9d9d9" stroke-width="1.50"/>
<text class="t" transform="translate(188.10 1464.44) scale(1.0250 1.3890)" x="-35.00 -30.00 -24.00 -18.00 -12.00 -6.00" y="0" font-size="12.00" fill="#808080">-30.00</text>
<line x1="204.6" y1="1493.85" x2="566.9" y2="1493.85" stroke="#d9d9d9" stroke-width="1.50"/>
<text class="t" transform="translate(188.10 1499.25) scale(1.0250 1.3890)" x="-35.00 -30.00 -24.00 -18.00 -12.00 -6.00" y="0" font-size="12.00" fill="#808080">-40.00</text>
<line x1="204.6" y1="1528.66" x2="566.9" y2="1528.66" stroke="#d9d9d9" stroke-width="1.50"/>
<text class="t" transform="translate(188.10 1534.06) scale(1.0250 1.3890)" x="-35.00 -30.00 -24.00 -18.00 -12.00 -6.00" y="0" font-size="12.00" fill="#808080">-50.00</text>
<line x1="204.6" y1="1563.47" x2="566.9" y2="1563.47" stroke="#d9d9d9" stroke-width="1.50"/>
<text class="t" transform="translate(188.10 1568.88) scale(1.0250 1.3890)" x="-35.00 -30.00 -24.00 -18.00 -12.00 -6.00" y="0" font-size="12.00" fill="#808080">-60.00</text>
<line x1="204.6" y1="1598.29" x2="566.9" y2="1598.29" stroke="#d9d9d9" stroke-width="1.50"/>
<text class="t" transform="translate(188.10 1603.69) scale(1.0250 1.3890)" x="-35.00 -30.00 -24.00 -18.00 -12.00 -6.00" y="0" font-size="12.00" fill="#808080">-70.00</text>
<line x1="204.6" y1="1633.10" x2="566.9" y2="1633.10" stroke="#d9d9d9" stroke-width="1.50"/>
<text class="t" transform="translate(188.10 1638.50) scale(1.0250 1.3890)" x="-35.00 -30.00 -24.00 -18.00 -12.00 -6.00" y="0" font-size="12.00" fill="#808080">-80.00</text>
<line x1="204.60" y1="1354.6" x2="204.60" y2="1359.1" stroke="#d9d9d9" stroke-width="1.10"/>
<text class="t" transform="translate(209.80 1372.60) scale(1.0250 1.3890) rotate(-45)" x="-60.00 -54.00 -48.00 -42.00 -35.00 -30.00 -24.00 -17.00 -12.00 -6.00" y="0" font-size="12.00" fill="#808080">2020-11-23</text>
<line x1="241.90" y1="1354.6" x2="241.90" y2="1359.1" stroke="#d9d9d9" stroke-width="1.10"/>
<text class="t" transform="translate(247.10 1372.60) scale(1.0250 1.3890) rotate(-45)" x="-60.00 -54.00 -48.00 -42.00 -35.00 -30.00 -24.00 -17.00 -12.00 -6.00" y="0" font-size="12.00" fill="#808080">2020-11-30</text>
<line x1="279.19" y1="1354.6" x2="279.19" y2="1359.1" stroke="#d9d9d9" stroke-width="1.10"/>
<text class="t" transform="translate(284.39 1372.60) scale(1.0250 1.3890) rotate(-45)" x="-60.00 -54.00 -48.00 -42.00 -35.00 -30.00 -24.00 -17.00 -12.00 -6.00" y="0" font-size="12.00" fill="#808080">2020-12-07</text>
<line x1="316.49" y1="1354.6" x2="316.49" y2="1359.1" stroke="#d9d9d9" stroke-width="1.10"/>
<text class="t" transform="translate(321.69 1372.60) scale(1.0250 1.3890) rotate(-45)" x="-60.00 -54.00 -48.00 -42.00 -35.00 -30.00 -24.00 -17.00 -12.00 -6.00" y="0" font-size="12.00" fill="#808080">2020-12-14</text>
<line x1="353.78" y1="1354.6" x2="353.78" y2="1359.1" stroke="#d9d9d9" stroke-width="1.10"/>
<text class="t" transform="translate(358.98 1372.60) scale(1.0250 1.3890) rotate(-45)" x="-60.00 -54.00 -48.00 -42.00 -35.00 -30.00 -24.00 -17.00 -12.00 -6.00" y="0" font-size="12.00" fill="#808080">2020-12-21</text>
<line x1="391.08" y1="1354.6" x2="391.08" y2="1359.1" stroke="#d9d9d9" stroke-width="1.10"/>
<text class="t" transform="translate(396.28 1372.60) scale(1.0250 1.3890) rotate(-45)" x="-60.00 -54.00 -48.00 -42.00 -35.00 -30.00 -24.00 -17.00 -12.00 -6.00" y="0" font-size="12.00" fill="#808080">2020-12-28</text>
<line x1="428.37" y1="1354.6" x2="428.37" y2="1359.1" stroke="#d9d9d9" stroke-width="1.10"/>
<text class="t" transform="translate(433.57 1372.60) scale(1.0250 1.3890) rotate(-45)" x="-60.00 -54.00 -48.00 -42.00 -35.00 -30.00 -24.00 -17.00 -12.00 -6.00" y="0" font-size="12.00" fill="#808080">2021-01-04</text>
<line x1="465.67" y1="1354.6" x2="465.67" y2="1359.1" stroke="#d9d9d9" stroke-width="1.10"/>
<text class="t" transform="translate(470.87 1372.60) scale(1.0250 1.3890) rotate(-45)" x="-60.00 -54.00 -48.00 -42.00 -35.00 -30.00 -24.00 -17.00 -12.00 -6.00" y="0" font-size="12.00" fill="#808080">2021-01-11</text>
<line x1="502.96" y1="1354.6" x2="502.96" y2="1359.1" stroke="#d9d9d9" stroke-width="1.10"/>
<text class="t" transform="translate(508.16 1372.60) scale(1.0250 1.3890) rotate(-45)" x="-60.00 -54.00 -48.00 -42.00 -35.00 -30.00 -24.00 -17.00 -12.00 -6.00" y="0" font-size="12.00" fill="#808080">2021-01-18</text>
<line x1="540.26" y1="1354.6" x2="540.26" y2="1359.1" stroke="#d9d9d9" stroke-width="1.10"/>
<text class="t" transform="translate(545.46 1372.60) scale(1.0250 1.3890) rotate(-45)" x="-60.00 -54.00 -48.00 -42.00 -35.00 -30.00 -24.00 -17.00 -12.00 -6.00" y="0" font-size="12.00" fill="#808080">2021-01-25</text>
<text class="t" transform="translate(364.40 1324.20) scale(1.0250 1.3890)" x="-32.67 -21.79 -14.00 -4.67 14.00" y="0" font-size="17.40" fill="#787878">5-9价差</text>
<polyline transform="scale(1 1.355)" points="207.3,1099.90 212.6,1097.33 217.9,1117.89 223.2,1099.90 228.6,1097.33 244.6,1094.76 249.9,1089.63 255.2,1107.61 260.5,1130.73 265.9,1138.44 281.9,1133.30 287.2,1141.01 292.5,1164.13 297.8,1138.44 303.2,1123.03 319.2,1107.61 324.5,1105.04 329.8,1097.33 335.1,1056.23 340.5,1084.49 356.4,1115.32 361.8,1089.63 367.1,1092.20 372.4,1099.90 377.8,1105.04 393.7,1141.01 399.1,1130.73 404.4,1092.20 409.7,1125.60 431.0,1125.60 436.4,1128.16 441.7,1123.03 447.0,1135.87 452.3,1143.58 468.3,1156.43 473.7,1169.27 479.0,1179.55 484.3,1141.01 489.6,1112.75 505.6,1133.30 511.0,1133.30 516.3,1148.72 521.6,1164.13 526.9,1174.41 542.9,1174.41 548.3,1176.98 553.6,1169.27 558.9,1182.12 564.2,1176.98" fill="none" stroke="#24405b" stroke-width="3.00" stroke-linejoin="round" stroke-linecap="round"/>
<ellipse cx="207.3" cy="1490.4" rx="3.3" ry="4.5" fill="#5b9bd5" stroke="#24405b" stroke-width="0.9"/>
<ellipse cx="212.6" cy="1486.9" rx="3.3" ry="4.5" fill="#5b9bd5" stroke="#24405b" stroke-width="0.9"/>
<ellipse cx="217.9" cy="1514.7" rx="3.3" ry="4.5" fill="#5b9bd5" stroke="#24405b" stroke-width="0.9"/>
<ellipse cx="223.2" cy="1490.4" rx="3.3" ry="4.5" fill="#5b9bd5" stroke="#24405b" stroke-width="0.9"/>
<ellipse cx="228.6" cy="1486.9" rx="3.3" ry="4.5" fill="#5b9bd5" stroke="#24405b" stroke-width="0.9"/>
<ellipse cx="244.6" cy="1483.4" rx="3.3" ry="4.5" fill="#5b9bd5" stroke="#24405b" stroke-width="0.9"/>
<ellipse cx="249.9" cy="1476.4" rx="3.3" ry="4.5" fill="#5b9bd5" stroke="#24405b" stroke-width="0.9"/>
<ellipse cx="255.2" cy="1500.8" rx="3.3" ry="4.5" fill="#5b9bd5" stroke="#24405b" stroke-width="0.9"/>
<ellipse cx="260.5" cy="1532.1" rx="3.3" ry="4.5" fill="#5b9bd5" stroke="#24405b" stroke-width="0.9"/>
<ellipse cx="265.9" cy="1542.6" rx="3.3" ry="4.5" fill="#5b9bd5" stroke="#24405b" stroke-width="0.9"/>
<ellipse cx="281.9" cy="1535.6" rx="3.3" ry="4.5" fill="#5b9bd5" stroke="#24405b" stroke-width="0.9"/>
<ellipse cx="287.2" cy="1546.1" rx="3.3" ry="4.5" fill="#5b9bd5" stroke="#24405b" stroke-width="0.9"/>
<ellipse cx="292.5" cy="1577.4" rx="3.3" ry="4.5" fill="#5b9bd5" stroke="#24405b" stroke-width="0.9"/>
<ellipse cx="297.8" cy="1542.6" rx="3.3" ry="4.5" fill="#5b9bd5" stroke="#24405b" stroke-width="0.9"/>
<ellipse cx="303.2" cy="1521.7" rx="3.3" ry="4.5" fill="#5b9bd5" stroke="#24405b" stroke-width="0.9"/>
<ellipse cx="319.2" cy="1500.8" rx="3.3" ry="4.5" fill="#5b9bd5" stroke="#24405b" stroke-width="0.9"/>
<ellipse cx="324.5" cy="1497.3" rx="3.3" ry="4.5" fill="#5b9bd5" stroke="#24405b" stroke-width="0.9"/>
<ellipse cx="329.8" cy="1486.9" rx="3.3" ry="4.5" fill="#5b9bd5" stroke="#24405b" stroke-width="0.9"/>
<ellipse cx="335.1" cy="1431.2" rx="3.3" ry="4.5" fill="#5b9bd5" stroke="#24405b" stroke-width="0.9"/>
<ellipse cx="340.5" cy="1469.5" rx="3.3" ry="4.5" fill="#5b9bd5" stroke="#24405b" stroke-width="0.9"/>
<ellipse cx="356.4" cy="1511.3" rx="3.3" ry="4.5" fill="#5b9bd5" stroke="#24405b" stroke-width="0.9"/>
<ellipse cx="361.8" cy="1476.4" rx="3.3" ry="4.5" fill="#5b9bd5" stroke="#24405b" stroke-width="0.9"/>
<ellipse cx="367.1" cy="1479.9" rx="3.3" ry="4.5" fill="#5b9bd5" stroke="#24405b" stroke-width="0.9"/>
<ellipse cx="372.4" cy="1490.4" rx="3.3" ry="4.5" fill="#5b9bd5" stroke="#24405b" stroke-width="0.9"/>
<ellipse cx="377.8" cy="1497.3" rx="3.3" ry="4.5" fill="#5b9bd5" stroke="#24405b" stroke-width="0.9"/>
<ellipse cx="393.7" cy="1546.1" rx="3.3" ry="4.5" fill="#5b9bd5" stroke="#24405b" stroke-width="0.9"/>
<ellipse cx="399.1" cy="1532.1" rx="3.3" ry="4.5" fill="#5b9bd5" stroke="#24405b" stroke-width="0.9"/>
<ellipse cx="404.4" cy="1479.9" rx="3.3" ry="4.5" fill="#5b9bd5" stroke="#24405b" stroke-width="0.9"/>
<ellipse cx="409.7" cy="1525.2" rx="3.3" ry="4.5" fill="#5b9bd5" stroke="#24405b" stroke-width="0.9"/>
<ellipse cx="431.0" cy="1525.2" rx="3.3" ry="4.5" fill="#5b9bd5" stroke="#24405b" stroke-width="0.9"/>
<ellipse cx="436.4" cy="1528.7" rx="3.3" ry="4.5" fill="#5b9bd5" stroke="#24405b" stroke-width="0.9"/>
<ellipse cx="441.7" cy="1521.7" rx="3.3" ry="4.5" fill="#5b9bd5" stroke="#24405b" stroke-width="0.9"/>
<ellipse cx="447.0" cy="1539.1" rx="3.3" ry="4.5" fill="#5b9bd5" stroke="#24405b" stroke-width="0.9"/>
<ellipse cx="452.3" cy="1549.5" rx="3.3" ry="4.5" fill="#5b9bd5" stroke="#24405b" stroke-width="0.9"/>
<ellipse cx="468.3" cy="1567.0" rx="3.3" ry="4.5" fill="#5b9bd5" stroke="#24405b" stroke-width="0.9"/>
<ellipse cx="473.7" cy="1584.4" rx="3.3" ry="4.5" fill="#5b9bd5" stroke="#24405b" stroke-width="0.9"/>
<ellipse cx="479.0" cy="1598.3" rx="3.3" ry="4.5" fill="#5b9bd5" stroke="#24405b" stroke-width="0.9"/>
<ellipse cx="484.3" cy="1546.1" rx="3.3" ry="4.5" fill="#5b9bd5" stroke="#24405b" stroke-width="0.9"/>
<ellipse cx="489.6" cy="1507.8" rx="3.3" ry="4.5" fill="#5b9bd5" stroke="#24405b" stroke-width="0.9"/>
<ellipse cx="505.6" cy="1535.6" rx="3.3" ry="4.5" fill="#5b9bd5" stroke="#24405b" stroke-width="0.9"/>
<ellipse cx="511.0" cy="1535.6" rx="3.3" ry="4.5" fill="#5b9bd5" stroke="#24405b" stroke-width="0.9"/>
<ellipse cx="516.3" cy="1556.5" rx="3.3" ry="4.5" fill="#5b9bd5" stroke="#24405b" stroke-width="0.9"/>
<ellipse cx="521.6" cy="1577.4" rx="3.3" ry="4.5" fill="#5b9bd5" stroke="#24405b" stroke-width="0.9"/>
<ellipse cx="526.9" cy="1591.3" rx="3.3" ry="4.5" fill="#5b9bd5" stroke="#24405b" stroke-width="0.9"/>
<ellipse cx="542.9" cy="1591.3" rx="3.3" ry="4.5" fill="#5b9bd5" stroke="#24405b" stroke-width="0.9"/>
<ellipse cx="548.3" cy="1594.8" rx="3.3" ry="4.5" fill="#5b9bd5" stroke="#24405b" stroke-width="0.9"/>
<ellipse cx="553.6" cy="1584.4" rx="3.3" ry="4.5" fill="#5b9bd5" stroke="#24405b" stroke-width="0.9"/>
<ellipse cx="558.9" cy="1601.8" rx="3.3" ry="4.5" fill="#5b9bd5" stroke="#24405b" stroke-width="0.9"/>
<ellipse cx="564.2" cy="1594.8" rx="3.3" ry="4.5" fill="#5b9bd5" stroke="#24405b" stroke-width="0.9"/>
<line x1="729.9" y1="1354.60" x2="1086.2" y2="1354.60" stroke="#d9d9d9" stroke-width="1.50"/>
<text class="t" transform="translate(713.40 1360.00) scale(1.0250 1.3890)" x="-36.00 -30.00 -24.00 -18.00 -12.00 -6.00" y="0" font-size="12.00" fill="#808080">200.00</text>
<line x1="729.9" y1="1394.39" x2="1086.2" y2="1394.39" stroke="#d9d9d9" stroke-width="1.50"/>
<text class="t" transform="translate(713.40 1399.79) scale(1.0250 1.3890)" x="-36.00 -30.00 -24.00 -18.00 -12.00 -6.00" y="0" font-size="12.00" fill="#808080">150.00</text>
<line x1="729.9" y1="1434.17" x2="1086.2" y2="1434.17" stroke="#d9d9d9" stroke-width="1.50"/>
<text class="t" transform="translate(713.40 1439.57) scale(1.0250 1.3890)" x="-36.00 -30.00 -24.00 -18.00 -12.00 -6.00" y="0" font-size="12.00" fill="#808080">100.00</text>
<line x1="729.9" y1="1473.96" x2="1086.2" y2="1473.96" stroke="#d9d9d9" stroke-width="1.50"/>
<text class="t" transform="translate(713.40 1479.36) scale(1.0250 1.3890)" x="-30.00 -24.00 -18.00 -12.00 -6.00" y="0" font-size="12.00" fill="#808080">50.00</text>
<line x1="729.9" y1="1513.74" x2="1086.2" y2="1513.74" stroke="#d9d9d9" stroke-width="1.50"/>
<text class="t" transform="translate(713.40 1519.14) scale(1.0250 1.3890)" x="-24.00 -18.00 -12.00 -6.00" y="0" font-size="12.00" fill="#808080">0.00</text>
<line x1="729.9" y1="1553.53" x2="1086.2" y2="1553.53" stroke="#d9d9d9" stroke-width="1.50"/>
<text class="t" transform="translate(713.40 1558.93) scale(1.0250 1.3890)" x="-35.00 -30.00 -24.00 -18.00 -12.00 -6.00" y="0" font-size="12.00" fill="#808080">-50.00</text>
<line x1="729.9" y1="1593.31" x2="1086.2" y2="1593.31" stroke="#d9d9d9" stroke-width="1.50"/>
<text class="t" transform="translate(713.40 1598.71) scale(1.0250 1.3890)" x="-41.00 -36.00 -30.00 -24.00 -18.00 -12.00 -6.00" y="0" font-size="12.00" fill="#808080">-100.00</text>
<line x1="729.9" y1="1633.10" x2="1086.2" y2="1633.10" stroke="#d9d9d9" stroke-width="1.50"/>
<text class="t" transform="translate(713.40 1638.50) scale(1.0250 1.3890)" x="-41.00 -36.00 -30.00 -24.00 -18.00 -12.00 -6.00" y="0" font-size="12.00" fill="#808080">-150.00</text>
<line x1="729.90" y1="1513.7" x2="729.90" y2="1518.2" stroke="#d9d9d9" stroke-width="1.10"/>
<text class="t" transform="translate(735.10 1531.74) scale(1.0250 1.3890) rotate(-45)" x="-60.00 -54.00 -48.00 -42.00 -35.00 -30.00 -24.00 -17.00 -12.00 -6.00" y="0" font-size="12.00" fill="#808080">2020-11-23</text>
<line x1="766.58" y1="1513.7" x2="766.58" y2="1518.2" stroke="#d9d9d9" stroke-width="1.10"/>
<text class="t" transform="translate(771.78 1531.74) scale(1.0250 1.3890) rotate(-45)" x="-60.00 -54.00 -48.00 -42.00 -35.00 -30.00 -24.00 -17.00 -12.00 -6.00" y="0" font-size="12.00" fill="#808080">2020-11-30</text>
<line x1="803.26" y1="1513.7" x2="803.26" y2="1518.2" stroke="#d9d9d9" stroke-width="1.10"/>
<text class="t" transform="translate(808.46 1531.74) scale(1.0250 1.3890) rotate(-45)" x="-60.00 -54.00 -48.00 -42.00 -35.00 -30.00 -24.00 -17.00 -12.00 -6.00" y="0" font-size="12.00" fill="#808080">2020-12-07</text>
<line x1="839.93" y1="1513.7" x2="839.93" y2="1518.2" stroke="#d9d9d9" stroke-width="1.10"/>
<text class="t" transform="translate(845.13 1531.74) scale(1.0250 1.3890) rotate(-45)" x="-60.00 -54.00 -48.00 -42.00 -35.00 -30.00 -24.00 -17.00 -12.00 -6.00" y="0" font-size="12.00" fill="#808080">2020-12-14</text>
<line x1="876.61" y1="1513.7" x2="876.61" y2="1518.2" stroke="#d9d9d9" stroke-width="1.10"/>
<text class="t" transform="translate(881.81 1531.74) scale(1.0250 1.3890) rotate(-45)" x="-60.00 -54.00 -48.00 -42.00 -35.00 -30.00 -24.00 -17.00 -12.00 -6.00" y="0" font-size="12.00" fill="#808080">2020-12-21</text>
<line x1="913.29" y1="1513.7" x2="913.29" y2="1518.2" stroke="#d9d9d9" stroke-width="1.10"/>
<text class="t" transform="translate(918.49 1531.74) scale(1.0250 1.3890) rotate(-45)" x="-60.00 -54.00 -48.00 -42.00 -35.00 -30.00 -24.00 -17.00 -12.00 -6.00" y="0" font-size="12.00" fill="#808080">2020-12-28</text>
<line x1="949.97" y1="1513.7" x2="949.97" y2="1518.2" stroke="#d9d9d9" stroke-width="1.10"/>
<text class="t" transform="translate(955.17 1531.74) scale(1.0250 1.3890) rotate(-45)" x="-60.00 -54.00 -48.00 -42.00 -35.00 -30.00 -24.00 -17.00 -12.00 -6.00" y="0" font-size="12.00" fill="#808080">2021-01-04</text>
<line x1="986.65" y1="1513.7" x2="986.65" y2="1518.2" stroke="#d9d9d9" stroke-width="1.10"/>
<text class="t" transform="translate(991.85 1531.74) scale(1.0250 1.3890) rotate(-45)" x="-60.00 -54.00 -48.00 -42.00 -35.00 -30.00 -24.00 -17.00 -12.00 -6.00" y="0" font-size="12.00" fill="#808080">2021-01-11</text>
<line x1="1023.32" y1="1513.7" x2="1023.32" y2="1518.2" stroke="#d9d9d9" stroke-width="1.10"/>
<text class="t" transform="translate(1028.52 1531.74) scale(1.0250 1.3890) rotate(-45)" x="-60.00 -54.00 -48.00 -42.00 -35.00 -30.00 -24.00 -17.00 -12.00 -6.00" y="0" font-size="12.00" fill="#808080">2021-01-18</text>
<line x1="1060.00" y1="1513.7" x2="1060.00" y2="1518.2" stroke="#d9d9d9" stroke-width="1.10"/>
<text class="t" transform="translate(1065.20 1531.74) scale(1.0250 1.3890) rotate(-45)" x="-60.00 -54.00 -48.00 -42.00 -35.00 -30.00 -24.00 -17.00 -12.00 -6.00" y="0" font-size="12.00" fill="#808080">2021-01-25</text>
<text class="t" transform="translate(884.40 1324.20) scale(1.0250 1.3890)" x="-32.67 -21.79 -14.00 -4.67 14.00" y="0" font-size="17.40" fill="#787878">9-1价差</text>
<polyline transform="scale(1 1.355)" points="732.5,1083.68 737.8,1083.68 743.0,1086.62 748.2,1089.55 753.5,1090.73 769.2,1092.49 774.4,1091.90 779.7,1089.55 784.9,1095.43 790.2,1115.69 805.9,1104.23 811.1,1101.89 816.4,1103.94 821.6,1103.65 826.8,1106.88 842.6,1112.46 847.8,1105.41 853.0,1095.43 858.3,1089.26 863.5,1059.02 879.2,1049.62 884.5,1050.79 889.7,1038.17 895.0,1037.88 900.2,1037.29 915.9,1030.24 921.1,1034.94 926.4,1034.94 931.6,1027.31 952.6,1025.54 957.8,1030.24 963.1,1027.31 968.3,1040.22 973.5,1027.89 989.3,1046.68 994.5,1026.13 999.7,1053.14 1005.0,1042.57 1010.2,1037.88 1025.9,1173.82 1031.2,1171.77 1036.4,1182.34 1041.7,1188.21 1046.9,1191.15 1062.6,1187.62 1067.9,1188.21 1073.1,1187.62 1078.3,1190.56 1083.6,1187.62" fill="none" stroke="#24405b" stroke-width="3.00" stroke-linejoin="round" stroke-linecap="round"/>
<ellipse cx="732.5" cy="1468.4" rx="3.3" ry="4.5" fill="#5b9bd5" stroke="#24405b" stroke-width="0.9"/>
<ellipse cx="737.8" cy="1468.4" rx="3.3" ry="4.5" fill="#5b9bd5" stroke="#24405b" stroke-width="0.9"/>
<ellipse cx="743.0" cy="1472.4" rx="3.3" ry="4.5" fill="#5b9bd5" stroke="#24405b" stroke-width="0.9"/>
<ellipse cx="748.2" cy="1476.3" rx="3.3" ry="4.5" fill="#5b9bd5" stroke="#24405b" stroke-width="0.9"/>
<ellipse cx="753.5" cy="1477.9" rx="3.3" ry="4.5" fill="#5b9bd5" stroke="#24405b" stroke-width="0.9"/>
<ellipse cx="769.2" cy="1480.3" rx="3.3" ry="4.5" fill="#5b9bd5" stroke="#24405b" stroke-width="0.9"/>
<ellipse cx="774.4" cy="1479.5" rx="3.3" ry="4.5" fill="#5b9bd5" stroke="#24405b" stroke-width="0.9"/>
<ellipse cx="779.7" cy="1476.3" rx="3.3" ry="4.5" fill="#5b9bd5" stroke="#24405b" stroke-width="0.9"/>
<ellipse cx="784.9" cy="1484.3" rx="3.3" ry="4.5" fill="#5b9bd5" stroke="#24405b" stroke-width="0.9"/>
<ellipse cx="790.2" cy="1511.8" rx="3.3" ry="4.5" fill="#5b9bd5" stroke="#24405b" stroke-width="0.9"/>
<ellipse cx="805.9" cy="1496.2" rx="3.3" ry="4.5" fill="#5b9bd5" stroke="#24405b" stroke-width="0.9"/>
<ellipse cx="811.1" cy="1493.1" rx="3.3" ry="4.5" fill="#5b9bd5" stroke="#24405b" stroke-width="0.9"/>
<ellipse cx="816.4" cy="1495.8" rx="3.3" ry="4.5" fill="#5b9bd5" stroke="#24405b" stroke-width="0.9"/>
<ellipse cx="821.6" cy="1495.4" rx="3.3" ry="4.5" fill="#5b9bd5" stroke="#24405b" stroke-width="0.9"/>
<ellipse cx="826.8" cy="1499.8" rx="3.3" ry="4.5" fill="#5b9bd5" stroke="#24405b" stroke-width="0.9"/>
<ellipse cx="842.6" cy="1507.4" rx="3.3" ry="4.5" fill="#5b9bd5" stroke="#24405b" stroke-width="0.9"/>
<ellipse cx="847.8" cy="1497.8" rx="3.3" ry="4.5" fill="#5b9bd5" stroke="#24405b" stroke-width="0.9"/>
<ellipse cx="853.0" cy="1484.3" rx="3.3" ry="4.5" fill="#5b9bd5" stroke="#24405b" stroke-width="0.9"/>
<ellipse cx="858.3" cy="1475.9" rx="3.3" ry="4.5" fill="#5b9bd5" stroke="#24405b" stroke-width="0.9"/>
<ellipse cx="863.5" cy="1435.0" rx="3.3" ry="4.5" fill="#5b9bd5" stroke="#24405b" stroke-width="0.9"/>
<ellipse cx="879.2" cy="1422.2" rx="3.3" ry="4.5" fill="#5b9bd5" stroke="#24405b" stroke-width="0.9"/>
<ellipse cx="884.5" cy="1423.8" rx="3.3" ry="4.5" fill="#5b9bd5" stroke="#24405b" stroke-width="0.9"/>
<ellipse cx="889.7" cy="1406.7" rx="3.3" ry="4.5" fill="#5b9bd5" stroke="#24405b" stroke-width="0.9"/>
<ellipse cx="895.0" cy="1406.3" rx="3.3" ry="4.5" fill="#5b9bd5" stroke="#24405b" stroke-width="0.9"/>
<ellipse cx="900.2" cy="1405.5" rx="3.3" ry="4.5" fill="#5b9bd5" stroke="#24405b" stroke-width="0.9"/>
<ellipse cx="915.9" cy="1396.0" rx="3.3" ry="4.5" fill="#5b9bd5" stroke="#24405b" stroke-width="0.9"/>
<ellipse cx="921.1" cy="1402.3" rx="3.3" ry="4.5" fill="#5b9bd5" stroke="#24405b" stroke-width="0.9"/>
<ellipse cx="926.4" cy="1402.3" rx="3.3" ry="4.5" fill="#5b9bd5" stroke="#24405b" stroke-width="0.9"/>
<ellipse cx="931.6" cy="1392.0" rx="3.3" ry="4.5" fill="#5b9bd5" stroke="#24405b" stroke-width="0.9"/>
<ellipse cx="952.6" cy="1389.6" rx="3.3" ry="4.5" fill="#5b9bd5" stroke="#24405b" stroke-width="0.9"/>
<ellipse cx="957.8" cy="1396.0" rx="3.3" ry="4.5" fill="#5b9bd5" stroke="#24405b" stroke-width="0.9"/>
<ellipse cx="963.1" cy="1392.0" rx="3.3" ry="4.5" fill="#5b9bd5" stroke="#24405b" stroke-width="0.9"/>
<ellipse cx="968.3" cy="1409.5" rx="3.3" ry="4.5" fill="#5b9bd5" stroke="#24405b" stroke-width="0.9"/>
<ellipse cx="973.5" cy="1392.8" rx="3.3" ry="4.5" fill="#5b9bd5" stroke="#24405b" stroke-width="0.9"/>
<ellipse cx="989.3" cy="1418.3" rx="3.3" ry="4.5" fill="#5b9bd5" stroke="#24405b" stroke-width="0.9"/>
<ellipse cx="994.5" cy="1390.4" rx="3.3" ry="4.5" fill="#5b9bd5" stroke="#24405b" stroke-width="0.9"/>
<ellipse cx="999.7" cy="1427.0" rx="3.3" ry="4.5" fill="#5b9bd5" stroke="#24405b" stroke-width="0.9"/>
<ellipse cx="1005.0" cy="1412.7" rx="3.3" ry="4.5" fill="#5b9bd5" stroke="#24405b" stroke-width="0.9"/>
<ellipse cx="1010.2" cy="1406.3" rx="3.3" ry="4.5" fill="#5b9bd5" stroke="#24405b" stroke-width="0.9"/>
<ellipse cx="1025.9" cy="1590.5" rx="3.3" ry="4.5" fill="#5b9bd5" stroke="#24405b" stroke-width="0.9"/>
<ellipse cx="1031.2" cy="1587.7" rx="3.3" ry="4.5" fill="#5b9bd5" stroke="#24405b" stroke-width="0.9"/>
<ellipse cx="1036.4" cy="1602.1" rx="3.3" ry="4.5" fill="#5b9bd5" stroke="#24405b" stroke-width="0.9"/>
<ellipse cx="1041.7" cy="1610.0" rx="3.3" ry="4.5" fill="#5b9bd5" stroke="#24405b" stroke-width="0.9"/>
<ellipse cx="1046.9" cy="1614.0" rx="3.3" ry="4.5" fill="#5b9bd5" stroke="#24405b" stroke-width="0.9"/>
<ellipse cx="1062.6" cy="1609.2" rx="3.3" ry="4.5" fill="#5b9bd5" stroke="#24405b" stroke-width="0.9"/>
<ellipse cx="1067.9" cy="1610.0" rx="3.3" ry="4.5" fill="#5b9bd5" stroke="#24405b" stroke-width="0.9"/>
<ellipse cx="1073.1" cy="1609.2" rx="3.3" ry="4.5" fill="#5b9bd5" stroke="#24405b" stroke-width="0.9"/>
<ellipse cx="1078.3" cy="1613.2" rx="3.3" ry="4.5" fill="#5b9bd5" stroke="#24405b" stroke-width="0.9"/>
<ellipse cx="1083.6" cy="1609.2" rx="3.3" ry="4.5" fill="#5b9bd5" stroke="#24405b" stroke-width="0.9"/>
</g>
<text class="f1" transform="translate(188.80 1682.50) scale(1.0000 1.0000)" x="0.00 15.00 30.00 45.00 60.00 75.00 87.75 91.50 98.25 105.00 112.50 127.50" y="0" font-size="15.00" fill="#000">数据来源：Wind 资讯</text>
<text class="f2" x="191.5" y="1713" font-size="20.6" fill="#465468" textLength="292" lengthAdjust="spacing">请务必阅读正文之后的免责声明</text>
<g id="logo">
<text class="lg" transform="translate(879.8 88.2) scale(1.06 1.0)" font-size="74.6" font-weight="700" fill="#cdcdcd">z</text>
<text class="lg" transform="translate(915.2 88.2) scale(0.92 1.0)" font-size="74.6" font-weight="700" fill="#cdcdcd">r</text>
<rect x="924" y="49.6" width="20" height="6.9" fill="#cdcdcd"/>
<clipPath id="fc"><rect x="943.4" y="20" width="40" height="75"/></clipPath>
<g clip-path="url(#fc)"><text class="lg" transform="translate(935.0 88.2) scale(1.13 1.0)" font-size="80" font-weight="700" fill="#1f3f7d">f</text></g>
<text class="lc" x="976.4" y="69.0" font-size="30.5" font-weight="700" fill="#6f6f6f" textLength="185" lengthAdjust="spacingAndGlyphs">中融汇信期货</text>
<text class="le" x="978.0" y="88.8" font-size="14.6" font-weight="700" fill="#6f6f6f" textLength="181" lengthAdjust="spacingAndGlyphs">ZHONG RONG HUI XIN FUTURES</text>
</g>
</svg>
</body></html>
